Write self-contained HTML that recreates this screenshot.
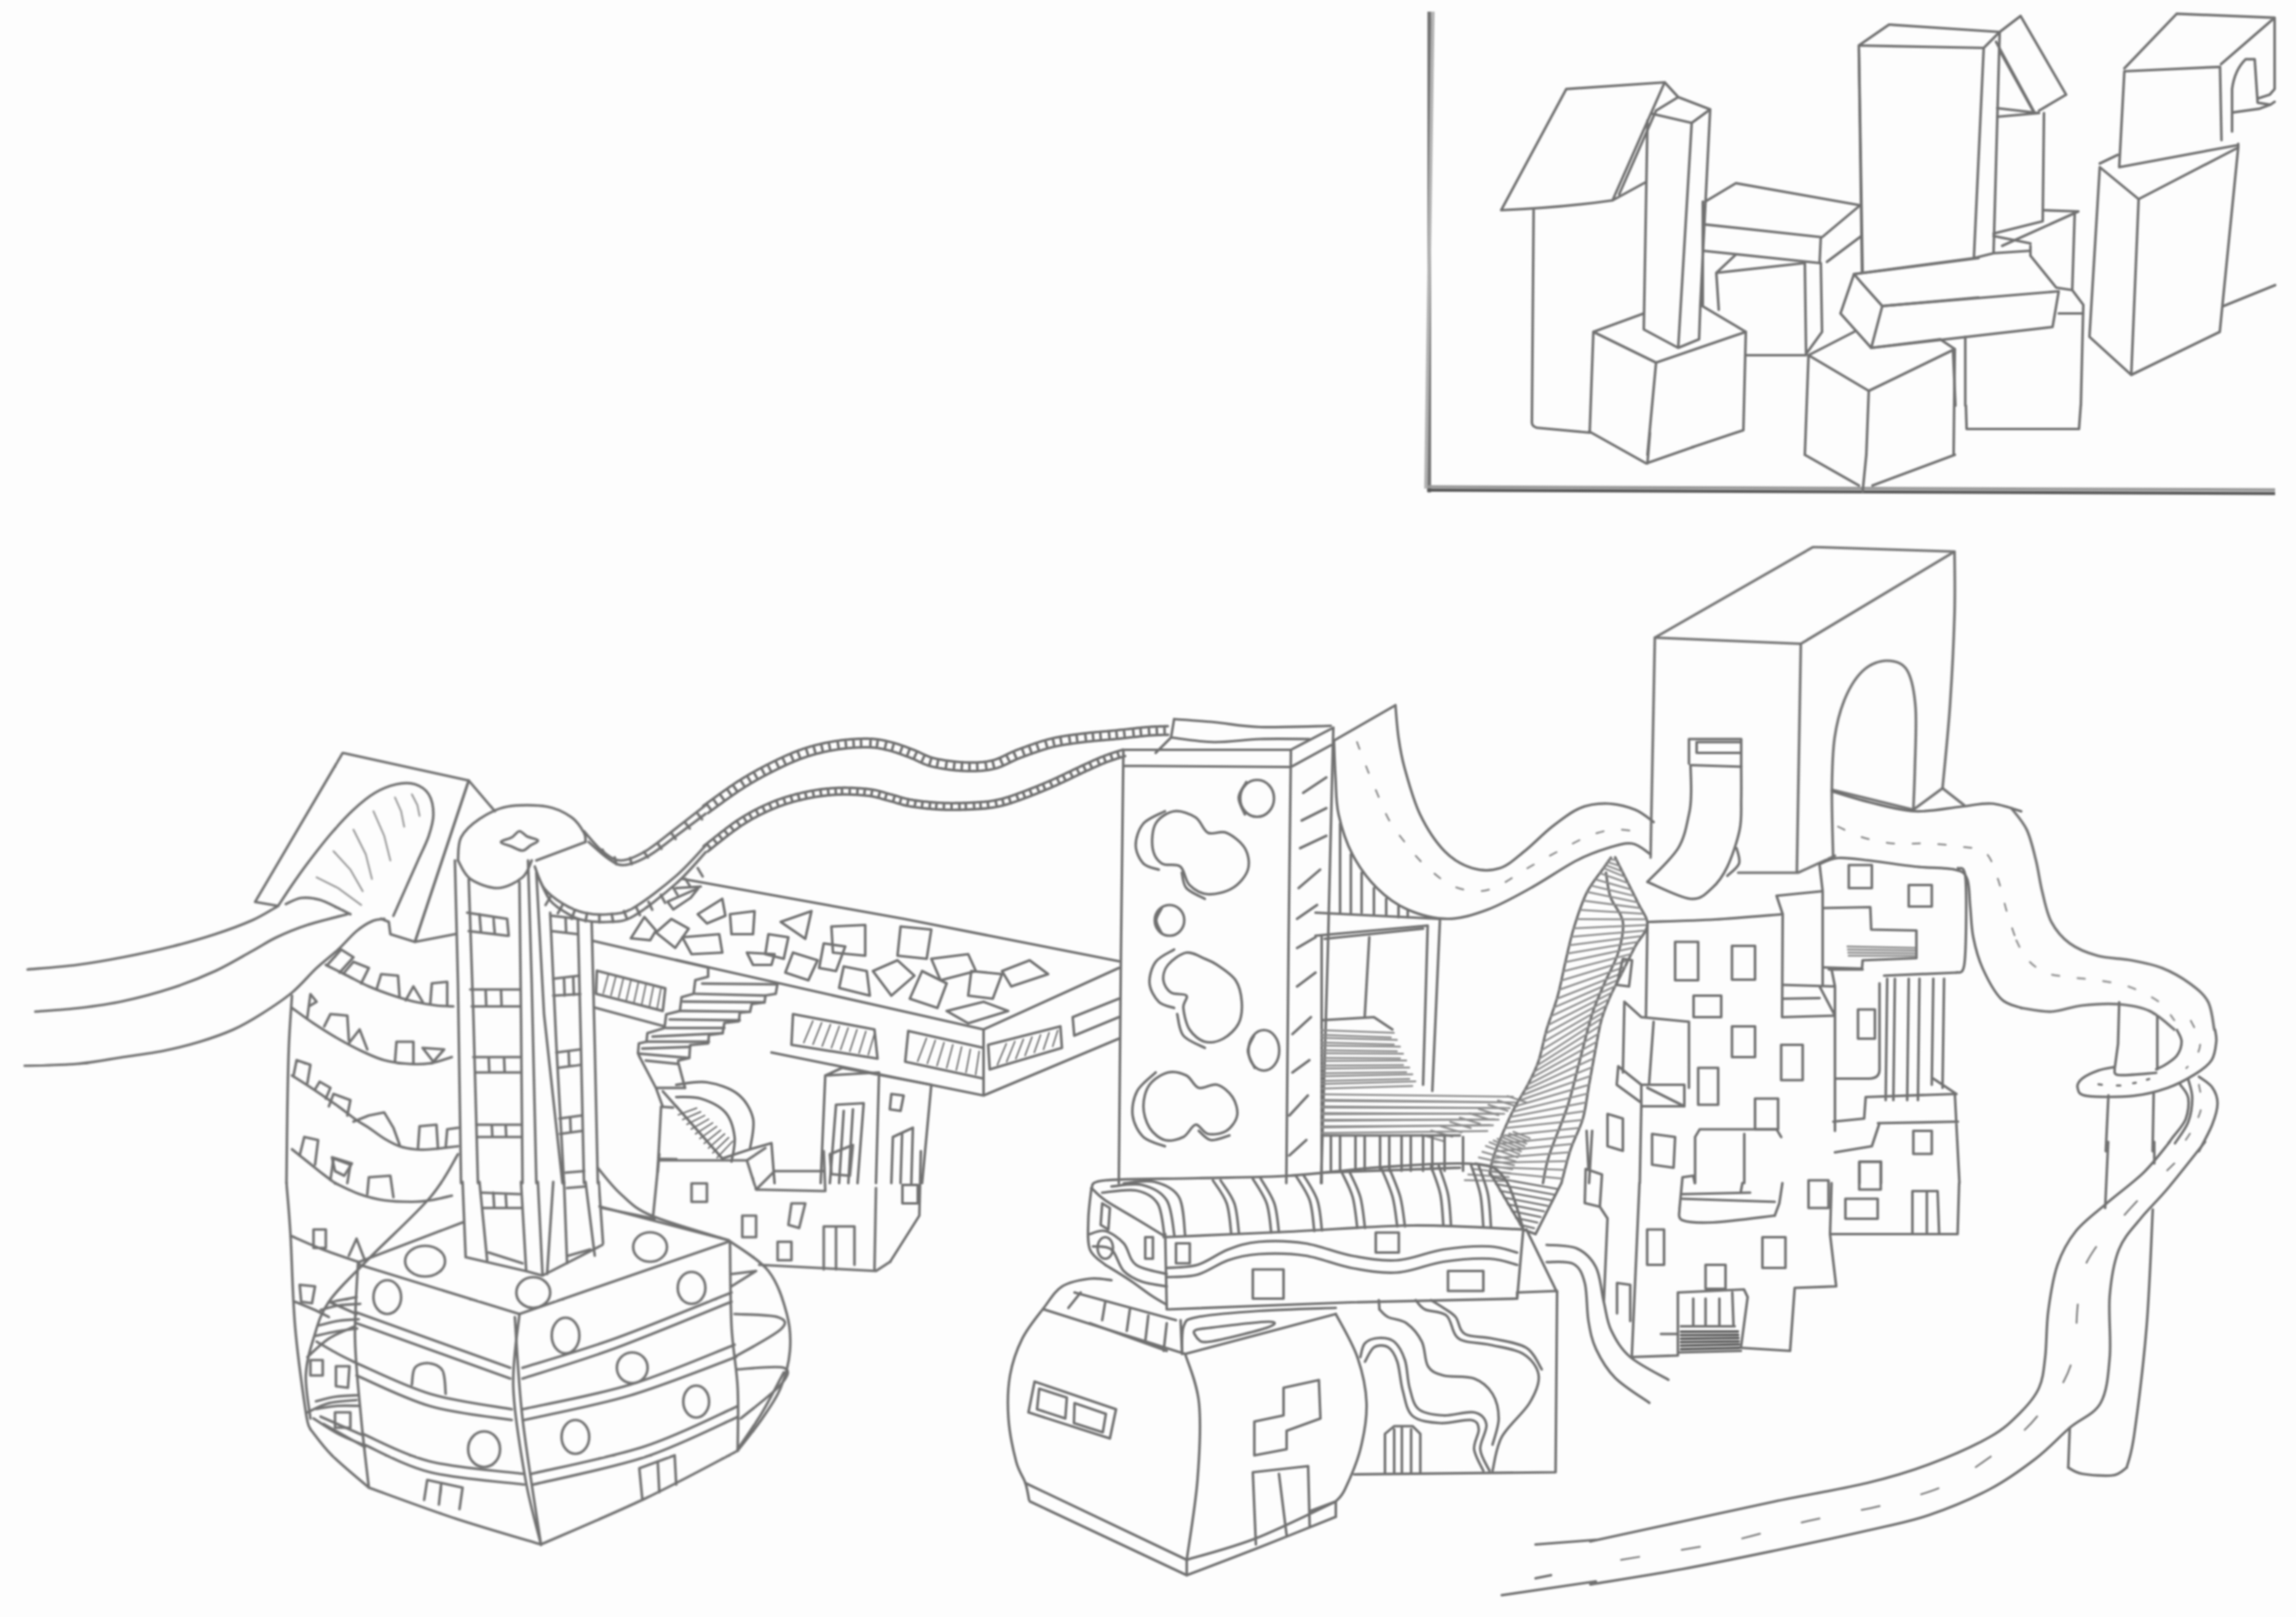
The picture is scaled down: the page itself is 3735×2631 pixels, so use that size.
<!DOCTYPE html>
<html><head><meta charset="utf-8"><title>Drawing</title>
<style>
html,body{margin:0;padding:0;background:#fdfdfd;}
body{width:3735px;height:2631px;overflow:hidden;}
svg{display:block;position:absolute;left:0;top:0;}
#d{fill:none;stroke:#707070;stroke-width:4.2;filter:blur(1.4px);stroke-linecap:round;stroke-linejoin:round;}
#d path,#d ellipse{vector-effect:non-scaling-stroke;}
</style></head><body>
<svg width="3735" height="2631" viewBox="0 0 3735 2631">
<g id="d">
<g transform="translate(2300,0) scale(0.625)">
<path d="M40,30.4 L40,1282" style="stroke:#747474;stroke-width:6;stroke-linecap:butt"/>
<path d="M49.6,30.4 L31.2,1272" style="stroke:#b2b2b2;stroke-width:5.5;stroke-linecap:butt"/>
<path d="M34.4,1276 L2241.6,1284.8" style="stroke:#555;stroke-width:5;stroke-linecap:butt"/>
<path d="M36,1267.2 L2241.6,1275.2" style="stroke:#999;stroke-width:5;stroke-linecap:butt"/>
</g>
<g transform="translate(2300,80) scale(0.4)">
<path d="M620,162 L1020,135 L808,615 Q600,645 355,655 Z M808,615 L945,540 M985,250 L835,590"/>
<path d="M487,655 L480,1520 Q482,1535 500,1540 L715,1560"/>
<path d="M965,262 L1130,300 L1205,245 L1075,195 L1020,135 M1075,195 L985,250 M950,290 L935,1140 L1075,1215 L1160,1180 L1165,1040 L1205,245 M1130,300 L1075,1215"/>
<path d="M730,1150 L715,1560 M730,1150 L985,1275 L950,1650 M730,1150 L935,1075 M985,1275 L1350,1150 L1340,1550 L1130,1620 M1165,1040 L1350,1150"/>
<path d="M1185,620 L1310,545 L1815,635 L1660,765 L1175,712 M1175,620 L1175,1040 M1655,765 L1650,870 L1175,820 M1820,760 L1680,865 M1310,835 L1230,910 L1590,870 M1230,910 L1240,1060 M1590,870 L1595,1240 M1655,870 L1660,1150 L1595,1240 M1350,1245 L1595,1245"/>
<path d="M1810,0 L1825,910 M1790,915 L2296,850 M1790,915 L1735,1075 L1860,1215 L1905,1045 L1820,950 Z M1905,1045 L2296,1010 M1860,1215 L2140,1180"/>
<path d="M1605,1245 L1790,1150 M1605,1245 L1850,1390 L2200,1220 L2140,1180 M1605,1245 L1590,1650 M1850,1390 L1840,1650 M2200,1220 L2195,1650"/>
</g>
<g transform="translate(2817,0) scale(0.4)">
<path d="M517,185 L640,100 L1090,130 L1025,195 Z M517,185 L530,1110 M1025,195 L985,1050 M1090,130 L1065,1030 M497,1115 L985,1050 L1065,1030 L1215,1020"/>
<path d="M1090,130 L1175,65 L1360,385 L1250,450 M1075,170 L1230,455 M1095,215 L1225,450 M1080,440 L1250,460 L1080,475 M1270,460 L1265,900 L1065,950 M1065,960 L1215,990"/>
<path d="M1265,855 L1410,860 L1100,1000 M1395,870 L1385,1180 M1215,1000 L1215,1040 L1320,1170 L1385,1180 L1430,1240 L1420,1650 M1330,1275 L1430,1275"/>
<path d="M612,1245 L1330,1185 L1305,1330 L567,1415"/>
<path d="M950,1370 L950,1650 M900,1425 L910,1650"/>
<path d="M1810,56 L2208,72 L1990,261 M1810,56 L1597,278 M1597,290 L1986,272 L1992,570 M1597,290 L1576,680 L2060,590 M2035,535 L2035,362 Q2045,285 2090,241 L2127,241 Q2131,300 2139,418 L2191,426 L2208,414 M2208,72 L2208,362 L2188,385 L2142,400 M2035,458 L2147,442 L2191,426"/>
<path d="M1497,665 L1570,630 M1497,680 L1655,810 L2060,600 L2060,585 M1497,680 L1455,1370 L1625,1525 L1985,1350 L2060,600 M1655,810 L1625,1525 M2000,1245 L2210,1160"/>
</g>
<g transform="translate(2500,480) scale(0.4)">
<path d="M213,555 L445,685 L640,617 M460,560 L450,685"/>
<path d="M1090,650 L1310,775 M1340,650 L1325,800 M1365,775 L1700,650"/>
<path d="M1745,450 L1748,545 L2205,545 L2212,450"/>
</g>
<g transform="translate(0,1100) scale(0.5)">
<path d="M90,955 C116.7,952.5 198.3,946.7 250,940 C301.7,933.3 348.3,925.0 400,915 C451.7,905.0 510.0,892.5 560,880 C610.0,867.5 656.7,854.2 700,840 C743.3,825.8 785.8,810.3 820,795 C854.2,779.7 890.8,755.8 905,748"/>
<path d="M115,1092 C139.2,1090.0 212.5,1085.7 260,1080 C307.5,1074.3 350.0,1068.8 400,1058 C450.0,1047.2 510.0,1031.3 560,1015 C610.0,998.7 656.7,980.0 700,960 C743.3,940.0 786.7,913.3 820,895 C853.3,876.7 870.0,864.2 900,850 C930.0,835.8 961.7,822.5 1000,810 C1038.3,797.5 1108.3,780.8 1130,775"/>
<path d="M80,1268 C108.3,1267.0 196.7,1266.7 250,1262 C303.3,1257.3 353.3,1247.0 400,1240 C446.7,1233.0 488.3,1228.3 530,1220 C571.7,1211.7 611.7,1201.7 650,1190 C688.3,1178.3 726.7,1165.0 760,1150 C793.3,1135.0 818.3,1120.0 850,1100 C881.7,1080.0 920.0,1055.0 950,1030 C980.0,1005.0 1005.0,973.3 1030,950 C1055.0,926.7 1078.3,910.0 1100,890 C1121.7,870.0 1141.7,845.3 1160,830 C1178.3,814.7 1195.0,804.7 1210,798 C1225.0,791.3 1243.3,791.3 1250,790"/>
<path d="M905,748 L830,735 L1115,250 L1525,340 L1350,865 L1270,840 L1265,800 L1240,790"/>
<path d="M905,748 C912.5,736.7 934.2,703.0 950,680 C965.8,657.0 979.2,637.5 1000,610 C1020.8,582.5 1050.0,544.2 1075,515 C1100.0,485.8 1125.8,457.5 1150,435 C1174.2,412.5 1196.7,393.8 1220,380 C1243.3,366.2 1268.3,356.7 1290,352 C1311.7,347.3 1332.5,346.5 1350,352 C1367.5,357.5 1385.0,368.7 1395,385 C1405.0,401.3 1410.0,427.5 1410,450 C1410.0,472.5 1403.3,495.0 1395,520 C1386.7,545.0 1372.5,571.7 1360,600 C1347.5,628.3 1333.3,660.0 1320,690 C1306.7,720.0 1286.7,765.0 1280,780"/>
<path d="M930,742 C938.3,738.7 961.7,724.3 980,722 C998.3,719.7 1020.0,722.5 1040,728 C1060.0,733.5 1083.3,747.2 1100,755 C1116.7,762.8 1133.3,771.7 1140,775"/>
<path d="M1030,655 L1100,690 L1175,745 M1085,570 L1140,630 L1180,700 M1150,500 L1190,580 L1210,660 M1215,440 L1250,520 L1270,600 M1285,395 L1305,440 L1315,490 M1340,385 L1358,420 L1365,455" style="stroke-width:3;stroke:#999"/>
<path d="M1525,340 L1610,440 M1350,865 L1480,840 M1350,865 L1525,340"/>
<path d="M1490,600 C1491.7,587.5 1488.3,547.5 1500,525 C1511.7,502.5 1535.0,481.7 1560,465 C1585.0,448.3 1613.3,431.7 1650,425 C1686.7,418.3 1745.0,419.2 1780,425 C1815.0,430.8 1840.0,445.8 1860,460 C1880.0,474.2 1892.5,496.7 1900,510 C1907.5,523.3 1904.2,535.0 1905,540"/>
<path d="M1905,540 L1745,600"/>
<path d="M1490,600 C1496.7,610.0 1508.3,645.0 1530,660 C1551.7,675.0 1591.7,690.8 1620,690 C1648.3,689.2 1681.7,670.0 1700,655 C1718.3,640.0 1725.0,609.2 1730,600"/>
<path d="M1630,540 C1630.0,535.0 1655.0,530.8 1665,525 C1675.0,519.2 1681.7,505.5 1690,505 C1698.3,504.5 1705.0,517.0 1715,522 C1725.0,527.0 1748.3,530.0 1750,535 C1751.7,540.0 1733.3,546.5 1725,552 C1716.7,557.5 1710.0,567.5 1700,568 C1690.0,568.5 1676.7,559.7 1665,555 C1653.3,550.3 1630.0,545.0 1630,540Z"/>
<path d="M1900,505 C1910.0,515.8 1940.0,554.2 1960,570 C1980.0,585.8 1996.7,600.0 2020,600 C2043.3,600.0 2070.0,587.5 2100,570 C2130.0,552.5 2167.3,520.0 2200,495 C2232.7,470.0 2280.0,432.5 2296,420"/>
<path d="M1915,540 C1925.8,549.2 1960.8,582.5 1980,595 C1999.2,607.5 2008.3,616.7 2030,615 C2051.7,613.3 2081.7,600.8 2110,585 C2138.3,569.2 2169.0,542.8 2200,520 C2231.0,497.2 2280.0,460.0 2296,448"/>
<path d="M1740,620 C1745.0,631.7 1755.0,670.0 1770,690 C1785.0,710.0 1808.3,726.7 1830,740 C1851.7,753.3 1875.0,764.2 1900,770 C1925.0,775.8 1953.3,777.5 1980,775 C2006.7,772.5 2023.3,775.8 2060,755 C2096.7,734.2 2160.7,684.0 2200,650 C2239.3,616.0 2280.0,567.5 2296,551"/>
<path d="M1750,650 C1756.7,663.3 1773.3,709.2 1790,730 C1806.7,750.8 1831.7,764.2 1850,775 C1868.3,785.8 1878.3,790.8 1900,795 C1921.7,799.2 1953.3,802.2 1980,800 C2006.7,797.8 2023.3,802.8 2060,782 C2096.7,761.2 2160.7,709.8 2200,675 C2239.3,640.2 2280.0,590.0 2296,573"/>
<path d="M1790,720 L1775,745 M1830,745 L1815,772 M1870,762 L1860,790 M1910,772 L1905,798 M1950,776 L1950,802 M1990,774 L1995,800 M2030,765 L2040,790 M2070,752 L2082,778 M2110,735 L2122,760 M2150,712 L2164,738 M2190,688 L2204,712 M2230,660 L2246,686 M2270,625 L2286,652"/>
<path d="M1960,565 L1975,590 M2000,590 L2005,612 M2050,592 L2055,612 M2095,572 L2108,590 M2140,545 L2152,562 M2185,512 L2198,530 M2230,478 L2244,496 M2270,448 L2284,466"/>
<path d="M1480,600 L1490,1000 L1500,1650 M1525,662 L1540,1100 L1555,1650 M1690,670 L1695,1100 L1700,1650 M1718,600 L1730,1000 L1745,1650 M1745,640 L1770,1100 L1830,1650 M1790,770 L1810,1200 L1835,1650 M1880,790 L1890,1200 L1900,1650 M1925,800 L1935,1200 L1945,1650"/>
<path d="M1520,770 L1650,790 M1525,830 L1650,845 M1560,775 L1565,835 M1605,785 L1610,840 M1650,790 L1655,845"/>
<path d="M1530,1020 L1690,1020 M1535,1075 L1690,1075 M1580,1020 L1582,1075 M1630,1020 L1632,1075"/>
<path d="M1540,1240 L1695,1240 M1545,1290 L1695,1290 M1590,1240 L1592,1290 M1640,1240 L1642,1290"/>
<path d="M1550,1460 L1695,1460 M1552,1500 L1695,1500 M1600,1460 L1602,1500 M1645,1460 L1647,1500"/>
<path d="M1795,780 L1880,790 M1795,830 L1880,840 M1840,785 L1842,835"/>
<path d="M1800,985 L1885,975 M1800,1040 L1888,1035 M1835,983 L1837,1040 M1865,980 L1867,1038"/>
<path d="M1810,1225 L1888,1215 M1815,1275 L1890,1265 M1850,1220 L1852,1270"/>
<path d="M1820,1440 L1892,1430 M1822,1490 L1895,1480 M1855,1435 L1857,1485"/>
<path d="M950,1040 C948.3,1066.7 942.5,1140.0 940,1200 C937.5,1260.0 936.3,1325.0 935,1400 C933.7,1475.0 932.5,1608.3 932,1650"/>
<path d="M1060,940 C1071.7,945.8 1106.7,963.3 1130,975 C1153.3,986.7 1175.0,999.2 1200,1010 C1225.0,1020.8 1255.0,1031.7 1280,1040 C1305.0,1048.3 1326.7,1054.7 1350,1060 C1373.3,1065.3 1399.2,1069.5 1420,1072 C1440.8,1074.5 1465.8,1074.5 1475,1075"/>
<path d="M950,1080 C961.7,1088.3 995.0,1113.3 1020,1130 C1045.0,1146.7 1073.3,1164.7 1100,1180 C1126.7,1195.3 1155.0,1210.3 1180,1222 C1205.0,1233.7 1225.0,1243.3 1250,1250 C1275.0,1256.7 1305.0,1260.3 1330,1262 C1355.0,1263.7 1376.7,1263.7 1400,1260 C1423.3,1256.3 1458.3,1243.3 1470,1240"/>
<path d="M950,1300 C961.7,1307.5 995.0,1328.3 1020,1345 C1045.0,1361.7 1076.7,1383.3 1100,1400 C1123.3,1416.7 1143.3,1433.3 1160,1445 C1176.7,1456.7 1185.0,1460.0 1200,1470 C1215.0,1480.0 1233.3,1495.0 1250,1505 C1266.7,1515.0 1283.3,1524.2 1300,1530 C1316.7,1535.8 1333.3,1538.3 1350,1540 C1366.7,1541.7 1376.7,1541.7 1400,1540 C1423.3,1538.3 1475.0,1531.7 1490,1530"/>
<path d="M950,1540 C958.3,1546.7 983.3,1566.7 1000,1580 C1016.7,1593.3 1035.0,1608.3 1050,1620 C1065.0,1631.7 1083.3,1645.0 1090,1650"/>
<path d="M1065,940 L1110,890 L1150,915 L1105,965 M1120,965 L1150,930 L1200,950 L1175,1000 M1225,1020 L1240,970 L1295,975 L1300,1045 M1320,1055 L1345,1010 L1375,1060 M1400,1065 L1405,1000 L1455,995 L1455,1070"/>
<path d="M1000,1110 L1010,1035 L1030,1060 L1005,1075 M1055,1140 L1075,1100 L1130,1105 L1135,1185 M1135,1195 L1170,1150 L1195,1215 M1285,1255 L1290,1190 L1345,1190 L1345,1260 M1375,1210 L1445,1215 L1410,1255 L1375,1210"/>
<path d="M955,1300 L965,1250 L1010,1265 L1000,1325 M1025,1345 L1040,1320 L1075,1340 L1060,1375 M1070,1400 L1085,1360 L1140,1380 L1130,1430 M1150,1450 L1200,1430 L1250,1420 L1280,1470 L1300,1525 M1360,1535 L1365,1465 L1420,1460 L1425,1538 M1450,1535 L1455,1475 L1490,1470"/>
<path d="M975,1560 L990,1500 L1035,1510 L1025,1590 M1075,1640 L1085,1570 L1140,1590 L1130,1650"/>
</g>
<g transform="translate(1100,1100) scale(0.5)">
<path d="M104.1,445.4 L105.9,444.1 L107.9,442.7 L110.1,441.1 L112.4,439.5 L114.9,437.6 L117.5,435.7 L120.3,433.7 L123.2,431.5 L126.3,429.3 L129.5,427.0 L132.7,424.6 L136.1,422.1 L139.6,419.6 L143.1,417.0 L146.7,414.4 L150.4,411.7 L154.1,409.0 L157.9,406.3 L161.7,403.6 L165.6,400.8 L169.4,398.1 L173.3,395.3 L177.1,392.6 L181.0,389.9 L184.8,387.2 L188.6,384.6 L192.3,382.0 L196.0,379.4 L199.6,377.0 L203.2,374.6 L206.7,372.2 L210.1,370.0 L213.4,367.8 L216.5,365.8 L220.1,363.5 L223.7,361.3 L227.2,359.1 L230.7,356.9 L234.3,354.7 L237.8,352.6 L241.3,350.5 L244.7,348.4 L248.2,346.4 L251.7,344.4 L255.1,342.3 L258.6,340.4 L262.0,338.4 L265.5,336.5 L268.9,334.5 L272.3,332.6 L275.7,330.7 L279.1,328.9 L282.6,327.0 L286.0,325.2 L289.4,323.4 L292.8,321.6 L296.2,319.8 L299.6,318.0 L303.1,316.2 L306.5,314.5 L309.9,312.7 L313.3,311.0 L316.8,309.3 L320.2,307.5 L323.9,305.7 L327.6,303.9 L331.3,302.1 L335.0,300.3 L338.7,298.5 L342.4,296.7 L346.1,294.9 L349.7,293.2 L353.4,291.5 L357.1,289.8 L360.7,288.1 L364.4,286.4 L368.0,284.8 L371.6,283.2 L375.3,281.6 L378.9,280.0 L382.6,278.5 L386.2,276.9 L389.8,275.5 L393.5,274.0 L397.1,272.5 L400.7,271.1 L404.3,269.7 L408.0,268.4 L411.6,267.1 L415.2,265.8 L418.8,264.5 L422.4,263.3 L426.4,262.0 L430.3,260.7 L434.2,259.5 L438.2,258.3 L442.1,257.1 L446.0,256.0 L450.0,254.8 L453.9,253.8 L457.9,252.7 L461.8,251.7 L465.8,250.7 L469.7,249.7 L473.7,248.8 L477.7,247.8 L481.6,246.9 L485.6,246.1 L489.5,245.2 L493.5,244.4 L497.5,243.6 L501.4,242.9 L505.4,242.2 L509.3,241.4 L513.3,240.8 L517.2,240.1 L521.2,239.5 L525.1,238.8 L529.0,238.3 L533.0,237.7 L537.0,237.2 L541.1,236.6 L545.2,236.2 L549.3,235.7 L553.4,235.3 L557.5,234.9 L561.6,234.5 L565.8,234.1 L569.9,233.8 L574.0,233.5 L578.1,233.2 L582.2,233.0 L586.2,232.7 L590.2,232.5 L594.1,232.4 L598.0,232.2 L601.9,232.1 L605.6,232.0 L609.4,231.9 L613.0,231.9 L616.6,231.9 L620.0,231.9 L623.4,231.9 L626.6,232.0 L631.4,232.1 L636.0,232.4 L640.3,232.7 L644.5,233.0 L648.5,233.4 L652.4,233.9 L656.2,234.4 L659.9,235.0 L663.5,235.7 L667.1,236.4 L670.7,237.1 L674.4,237.9 L678.1,238.8 L681.8,239.7 L685.6,240.6 L689.6,241.6 L693.6,242.6 L697.3,243.5 L701.0,244.5 L704.7,245.6 L708.4,246.8 L712.2,247.9 L716.0,249.2 L719.7,250.5 L723.5,251.8 L727.3,253.1 L731.2,254.5 L735.0,255.9 L738.8,257.3 L742.7,258.8 L746.6,260.2 L750.4,261.7 L754.3,263.2 L758.2,264.6 L762.0,266.1 L765.6,267.5 L769.0,268.9 L772.4,270.4 L775.8,271.9 L779.2,273.5 L782.7,275.2 L786.2,276.9 L789.7,278.6 L793.4,280.3 L797.1,282.0 L801.0,283.8 L805.0,285.5 L809.2,287.2 L813.5,288.8 L818.0,290.4 L822.7,291.9 L827.6,293.3 L832.6,294.6 L836.3,295.4 L839.9,296.3 L843.7,297.1 L847.6,297.9 L851.5,298.6 L855.5,299.4 L859.6,300.1 L863.8,300.8 L868.0,301.5 L872.3,302.2 L876.6,302.8 L880.9,303.5 L885.3,304.1 L889.6,304.6 L894.0,305.2 L898.4,305.7 L902.8,306.2 L907.1,306.6 L911.5,307.1 L915.8,307.4 L920.0,307.8 L924.3,308.1 L928.4,308.4 L932.5,308.6 L936.5,308.8 L940.5,309.0 L945.0,309.1 L949.5,309.3 L954.0,309.3 L958.4,309.4 L962.8,309.4 L967.2,309.4 L971.6,309.3 L975.9,309.2 L980.2,309.0 L984.5,308.8 L988.8,308.5 L993.1,308.2 L997.4,307.8 L1001.6,307.4 L1005.8,306.9 L1010.1,306.4 L1014.3,305.7 L1018.5,305.1 L1022.7,304.3 L1026.9,303.5 L1031.1,302.6 L1035.3,301.6 L1039.6,300.5 L1043.9,299.3 L1048.0,297.9 L1052.1,296.5 L1056.1,295.0 L1060.0,293.4 L1063.8,291.8 L1067.6,290.1 L1071.4,288.4 L1075.1,286.6 L1078.7,284.8 L1082.4,283.1 L1086.0,281.3 L1089.7,279.5 L1093.3,277.7 L1097.0,276.0 L1100.7,274.2 L1104.4,272.5 L1108.2,270.8 L1112.0,269.2 L1115.9,267.6 L1120.0,266.1 L1123.4,264.8 L1127.0,263.5 L1130.6,262.1 L1134.3,260.8 L1138.0,259.4 L1141.7,258.0 L1145.5,256.6 L1149.3,255.2 L1153.2,253.8 L1157.0,252.4 L1160.9,251.0 L1164.9,249.7 L1168.8,248.3 L1172.7,246.9 L1176.7,245.6 L1180.6,244.3 L1184.6,242.9 L1188.6,241.7 L1192.5,240.4 L1196.4,239.2 L1200.4,238.0 L1204.3,236.8 L1208.1,235.7 L1212.0,234.6 L1215.8,233.5 L1219.6,232.5 L1223.4,231.6 L1227.3,230.6 L1231.2,229.7 L1235.0,228.9 L1238.9,228.0 L1242.8,227.2 L1246.7,226.4 L1250.6,225.7 L1254.5,225.0 L1258.4,224.3 L1262.3,223.6 L1266.2,223.0 L1270.2,222.4 L1274.1,221.8 L1278.0,221.2 L1282.0,220.6 L1285.9,220.1 L1289.8,219.5 L1293.8,219.0 L1297.8,218.5 L1301.8,218.0 L1305.7,217.4 L1309.7,216.9 L1313.7,216.4 L1317.7,215.9 L1321.8,215.4 L1325.8,214.9 L1329.7,214.4 L1333.7,213.9 L1337.7,213.4 L1341.6,213.0 L1345.6,212.6 L1349.6,212.2 L1353.6,211.8 L1357.6,211.4 L1361.6,211.0 L1365.6,210.6 L1369.6,210.3 L1373.7,209.9 L1377.7,209.6 L1381.7,209.2 L1385.8,208.9 L1389.8,208.6 L1393.9,208.2 L1397.9,207.9 L1402.0,207.5 L1406.0,207.2 L1410.1,206.8 L1414.1,206.5 L1418.2,206.1 L1422.3,205.7 L1426.3,205.3 L1430.4,204.9 L1434.5,204.5 L1438.6,204.1 L1442.7,203.7 L1446.9,203.2 L1451.1,202.7 L1455.4,202.3 L1459.6,201.8 L1463.8,201.3 L1468.1,200.9 L1472.3,200.4 L1476.5,199.9 L1480.7,199.4 L1484.9,199.0 L1489.1,198.5 L1493.2,198.1 L1497.3,197.6 L1501.3,197.2 L1505.2,196.7 L1509.1,196.3 L1513.0,195.9 L1516.7,195.6 L1520.4,195.2 L1524.0,194.9 L1527.5,194.5 L1530.9,194.2 L1534.1,194.0 L1539.4,193.5 L1544.5,193.2 L1549.6,192.9 L1554.7,192.6 L1559.6,192.4 L1564.4,192.1 L1569.0,192.0 L1573.5,191.8 L1577.7,191.7 L1581.8,191.5 L1585.6,191.4 L1589.2,191.3 L1592.5,191.3 L1595.5,191.2 L1598.2,191.1 L1600.6,191.0 M87.9,422.6 L89.6,421.4 L91.5,420.0 L93.6,418.5 L95.9,416.8 L98.4,415.0 L101.0,413.1 L103.8,411.1 L106.7,408.9 L109.8,406.7 L112.9,404.4 L116.2,402.0 L119.6,399.5 L123.1,397.0 L126.6,394.4 L130.3,391.7 L134.0,389.1 L137.7,386.3 L141.5,383.6 L145.4,380.8 L149.3,378.1 L153.1,375.3 L157.0,372.5 L161.0,369.7 L164.8,367.0 L168.7,364.3 L172.6,361.6 L176.4,358.9 L180.2,356.3 L183.9,353.8 L187.6,351.3 L191.2,348.9 L194.7,346.6 L198.1,344.3 L201.5,342.2 L205.1,339.9 L208.8,337.6 L212.4,335.3 L216.1,333.1 L219.7,330.8 L223.3,328.7 L226.9,326.5 L230.5,324.4 L234.0,322.2 L237.6,320.2 L241.1,318.1 L244.7,316.1 L248.2,314.1 L251.7,312.1 L255.2,310.1 L258.8,308.1 L262.3,306.2 L265.8,304.3 L269.3,302.4 L272.8,300.5 L276.3,298.6 L279.8,296.8 L283.2,295.0 L286.7,293.1 L290.2,291.3 L293.7,289.5 L297.2,287.8 L300.7,286.0 L304.3,284.2 L307.8,282.5 L311.5,280.6 L315.3,278.7 L319.0,276.9 L322.8,275.1 L326.5,273.3 L330.3,271.4 L334.0,269.7 L337.8,267.9 L341.5,266.1 L345.3,264.4 L349.1,262.6 L352.8,260.9 L356.6,259.2 L360.4,257.6 L364.1,255.9 L367.9,254.3 L371.7,252.7 L375.5,251.1 L379.2,249.5 L383.0,248.0 L386.8,246.5 L390.6,245.0 L394.4,243.6 L398.2,242.1 L402.1,240.7 L405.9,239.4 L409.7,238.0 L413.6,236.7 L417.7,235.4 L421.8,234.0 L425.9,232.7 L430.1,231.5 L434.2,230.2 L438.3,229.0 L442.5,227.9 L446.6,226.7 L450.7,225.6 L454.9,224.5 L459.0,223.5 L463.2,222.5 L467.3,221.5 L471.4,220.5 L475.6,219.6 L479.7,218.7 L483.8,217.8 L488.0,217.0 L492.1,216.2 L496.2,215.4 L500.3,214.6 L504.5,213.9 L508.6,213.2 L512.7,212.5 L516.8,211.8 L520.9,211.2 L525.0,210.5 L529.2,210.0 L533.4,209.4 L537.7,208.9 L542.0,208.3 L546.3,207.9 L550.6,207.4 L554.9,207.0 L559.2,206.6 L563.5,206.2 L567.8,205.9 L572.0,205.6 L576.3,205.3 L580.5,205.0 L584.7,204.8 L588.9,204.6 L593.0,204.4 L597.1,204.2 L601.1,204.1 L605.0,204.0 L608.9,203.9 L612.8,203.9 L616.5,203.9 L620.2,203.9 L623.8,203.9 L627.4,204.0 L632.6,204.2 L637.6,204.4 L642.4,204.7 L647.1,205.1 L651.7,205.6 L656.1,206.1 L660.3,206.8 L664.5,207.4 L668.6,208.1 L672.6,208.9 L676.6,209.7 L680.5,210.6 L684.4,211.5 L688.4,212.4 L692.3,213.4 L696.3,214.4 L700.4,215.4 L704.5,216.5 L708.6,217.6 L712.7,218.8 L716.7,220.0 L720.8,221.3 L724.8,222.6 L728.8,224.0 L732.8,225.3 L736.8,226.8 L740.8,228.2 L744.7,229.6 L748.6,231.1 L752.6,232.6 L756.5,234.1 L760.4,235.5 L764.2,237.0 L768.1,238.4 L772.0,239.9 L776.0,241.5 L780.0,243.1 L783.8,244.8 L787.6,246.5 L791.2,248.2 L794.8,249.9 L798.3,251.6 L801.8,253.3 L805.3,255.0 L808.7,256.6 L812.2,258.1 L815.7,259.6 L819.4,261.1 L823.0,262.5 L826.9,263.8 L830.8,265.1 L835.0,266.3 L839.4,267.4 L842.5,268.2 L845.9,268.9 L849.4,269.7 L853.1,270.4 L856.8,271.1 L860.6,271.8 L864.5,272.5 L868.4,273.2 L872.5,273.9 L876.5,274.5 L880.6,275.1 L884.8,275.7 L889.0,276.3 L893.2,276.9 L897.4,277.4 L901.6,277.9 L905.8,278.3 L909.9,278.8 L914.1,279.2 L918.2,279.5 L922.3,279.9 L926.3,280.2 L930.2,280.4 L934.0,280.7 L937.8,280.9 L941.5,281.0 L945.8,281.2 L950.1,281.3 L954.4,281.3 L958.6,281.4 L962.8,281.4 L966.9,281.4 L971.0,281.3 L975.0,281.2 L979.0,281.0 L983.0,280.8 L986.9,280.6 L990.8,280.3 L994.7,280.0 L998.6,279.6 L1002.4,279.1 L1006.2,278.6 L1010.0,278.1 L1013.8,277.5 L1017.5,276.8 L1021.3,276.1 L1025.0,275.3 L1028.7,274.4 L1032.2,273.5 L1035.7,272.5 L1039.1,271.4 L1042.5,270.2 L1045.9,268.9 L1049.3,267.5 L1052.7,266.1 L1056.1,264.6 L1059.5,263.0 L1063.0,261.4 L1066.5,259.7 L1070.1,257.9 L1073.7,256.1 L1077.4,254.3 L1081.2,252.5 L1085.0,250.7 L1088.9,248.8 L1092.9,247.0 L1097.1,245.2 L1101.3,243.4 L1105.6,241.6 L1110.0,239.9 L1113.6,238.6 L1117.2,237.2 L1120.8,235.9 L1124.5,234.5 L1128.3,233.1 L1132.0,231.7 L1135.9,230.3 L1139.7,228.9 L1143.7,227.5 L1147.6,226.1 L1151.6,224.7 L1155.6,223.2 L1159.6,221.8 L1163.6,220.4 L1167.7,219.1 L1171.8,217.7 L1175.9,216.3 L1180.0,215.0 L1184.1,213.7 L1188.2,212.4 L1192.3,211.2 L1196.4,209.9 L1200.4,208.8 L1204.5,207.6 L1208.6,206.5 L1212.6,205.4 L1216.6,204.4 L1220.8,203.4 L1224.9,202.4 L1229.0,201.5 L1233.2,200.6 L1237.3,199.8 L1241.4,199.0 L1245.5,198.2 L1249.6,197.4 L1253.7,196.7 L1257.7,196.0 L1261.8,195.4 L1265.9,194.7 L1269.9,194.1 L1274.0,193.5 L1278.0,192.9 L1282.0,192.3 L1286.1,191.8 L1290.1,191.2 L1294.1,190.7 L1298.2,190.2 L1302.2,189.7 L1306.2,189.2 L1310.2,188.7 L1314.2,188.1 L1318.2,187.6 L1322.2,187.1 L1326.3,186.6 L1330.4,186.1 L1334.5,185.6 L1338.6,185.2 L1342.7,184.7 L1346.8,184.3 L1350.9,183.9 L1354.9,183.5 L1359.0,183.1 L1363.1,182.7 L1367.2,182.4 L1371.2,182.0 L1375.3,181.7 L1379.4,181.3 L1383.4,181.0 L1387.5,180.6 L1391.5,180.3 L1395.6,180.0 L1399.6,179.6 L1403.6,179.3 L1407.6,178.9 L1411.6,178.6 L1415.6,178.2 L1419.6,177.8 L1423.6,177.5 L1427.6,177.1 L1431.6,176.7 L1435.7,176.2 L1439.8,175.8 L1443.9,175.4 L1448.1,174.9 L1452.3,174.5 L1456.5,174.0 L1460.7,173.5 L1465.0,173.0 L1469.2,172.6 L1473.4,172.1 L1477.6,171.6 L1481.8,171.1 L1486.0,170.7 L1490.1,170.2 L1494.2,169.8 L1498.3,169.3 L1502.3,168.9 L1506.2,168.5 L1510.1,168.1 L1513.9,167.7 L1517.7,167.3 L1521.4,167.0 L1525.0,166.6 L1528.5,166.3 L1531.9,166.0 L1537.3,165.6 L1542.7,165.3 L1548.0,164.9 L1553.2,164.6 L1558.3,164.4 L1563.2,164.2 L1568.0,164.0 L1572.5,163.8 L1576.9,163.7 L1581.0,163.6 L1584.9,163.5 L1588.5,163.4 L1591.7,163.3 L1594.7,163.2 L1597.2,163.1 L1599.4,163.0 M114.9,437.6 L98.4,415.0 M136.1,422.1 L119.6,399.5 M157.9,406.3 L141.5,383.6 M181.0,389.9 L164.8,367.0 M199.6,377.0 L183.9,353.8 M223.7,361.3 L208.8,337.6 M244.7,348.4 L230.5,324.4 M265.5,336.5 L251.7,312.1 M289.4,323.4 L276.3,298.6 M309.9,312.7 L297.2,287.8 M335.0,300.3 L322.8,275.1 M357.1,289.8 L345.3,264.4 M382.6,278.5 L371.7,252.7 M404.3,269.7 L394.4,243.6 M430.3,260.7 L421.8,234.0 M453.9,253.8 L446.6,226.7 M477.7,247.8 L471.4,220.5 M501.4,242.9 L496.2,215.4 M529.0,238.3 L525.0,210.5 M553.4,235.3 L550.6,207.4 M578.1,233.2 L576.3,205.3 M601.9,232.1 L601.1,204.1 M631.4,232.1 L632.6,204.2 M652.4,233.9 L656.1,206.1 M678.1,238.8 L684.4,211.5 M701.0,244.5 L708.6,217.6 M727.3,253.1 L736.8,226.8 M750.4,261.7 L760.4,235.5 M772.4,270.4 L783.8,244.8 M797.1,282.0 L808.7,256.6 M822.7,291.9 L830.8,265.1 M847.6,297.9 L853.1,270.4 M876.6,302.8 L880.6,275.1 M902.8,306.2 L905.8,278.3 M928.4,308.4 L930.2,280.4 M954.0,309.3 L954.4,281.3 M980.2,309.0 L979.0,281.0 M1010.1,306.4 L1006.2,278.6 M1035.3,301.6 L1028.7,274.4 M1063.8,291.8 L1052.7,266.1 M1086.0,281.3 L1073.7,256.1 M1108.2,270.8 L1097.1,245.2 M1134.3,260.8 L1124.5,234.5 M1157.0,252.4 L1147.6,226.1 M1180.6,244.3 L1171.8,217.7 M1208.1,235.7 L1200.4,208.8 M1231.2,229.7 L1224.9,202.4 M1254.5,225.0 L1249.6,197.4 M1282.0,220.6 L1278.0,192.9 M1305.7,217.4 L1302.2,189.7 M1333.7,213.9 L1330.4,186.1 M1357.6,211.4 L1354.9,183.5 M1381.7,209.2 L1379.4,181.3 M1410.1,206.8 L1407.6,178.9 M1434.5,204.5 L1431.6,176.7 M1459.6,201.8 L1456.5,174.0 M1489.1,198.5 L1486.0,170.7 M1513.0,195.9 L1510.1,168.1 M1539.4,193.5 L1537.3,165.6 M1564.4,192.1 L1563.2,164.2 M1589.2,191.3 L1588.5,163.4"/>
<path d="M102.7,570.7 L104.4,569.4 L106.4,567.9 L108.5,566.3 L110.7,564.5 L113.1,562.6 L115.7,560.5 L118.4,558.4 L121.2,556.2 L124.1,553.8 L127.1,551.4 L130.3,548.9 L133.5,546.3 L136.9,543.6 L140.3,540.9 L143.8,538.2 L147.3,535.4 L150.9,532.5 L154.6,529.7 L158.2,526.8 L161.9,523.9 L165.7,521.0 L169.4,518.1 L173.2,515.3 L176.9,512.4 L180.6,509.6 L184.3,506.8 L188.0,504.1 L191.6,501.5 L195.2,498.9 L198.7,496.4 L202.1,493.9 L205.5,491.6 L208.7,489.4 L211.9,487.2 L215.0,485.2 L218.7,482.9 L222.3,480.5 L226.0,478.3 L229.6,476.0 L233.3,473.8 L236.9,471.7 L240.5,469.6 L244.0,467.5 L247.6,465.5 L251.2,463.5 L254.7,461.5 L258.3,459.6 L261.8,457.7 L265.4,455.8 L268.9,454.0 L272.4,452.2 L275.9,450.4 L279.4,448.7 L283.0,447.0 L286.5,445.3 L290.0,443.6 L293.5,442.0 L297.0,440.4 L300.5,438.8 L304.1,437.2 L307.6,435.7 L311.1,434.1 L314.7,432.6 L318.2,431.2 L322.0,429.6 L325.8,428.1 L329.6,426.6 L333.4,425.1 L337.1,423.7 L340.9,422.3 L344.7,421.0 L348.4,419.7 L352.2,418.4 L356.0,417.1 L359.8,415.9 L363.5,414.7 L367.3,413.5 L371.1,412.4 L374.8,411.3 L378.6,410.2 L382.4,409.1 L386.2,408.1 L390.0,407.1 L393.7,406.1 L397.5,405.1 L401.3,404.2 L405.1,403.3 L408.9,402.3 L412.7,401.5 L416.5,400.6 L420.4,399.7 L424.3,398.9 L428.3,398.1 L432.2,397.3 L436.2,396.5 L440.2,395.7 L444.1,395.0 L448.1,394.3 L452.1,393.6 L456.0,393.0 L460.0,392.4 L464.0,391.8 L468.0,391.2 L472.0,390.7 L475.9,390.1 L479.9,389.6 L483.9,389.2 L487.9,388.7 L491.8,388.3 L495.8,388.0 L499.8,387.6 L503.7,387.3 L507.7,387.0 L511.7,386.7 L515.6,386.4 L519.6,386.2 L523.5,386.0 L527.5,385.8 L531.5,385.7 L535.5,385.6 L539.6,385.5 L543.7,385.4 L547.8,385.4 L551.9,385.4 L556.1,385.5 L560.2,385.5 L564.3,385.6 L568.5,385.7 L572.6,385.9 L576.7,386.1 L580.8,386.2 L584.9,386.4 L588.9,386.7 L592.8,386.9 L596.8,387.2 L600.6,387.5 L604.4,387.8 L608.2,388.1 L611.8,388.4 L615.4,388.8 L618.9,389.2 L622.4,389.5 L625.6,389.9 L630.2,390.5 L634.5,391.2 L638.6,391.9 L642.6,392.7 L646.5,393.5 L650.3,394.4 L654.0,395.3 L657.6,396.2 L661.2,397.2 L664.7,398.2 L668.2,399.3 L671.8,400.3 L675.4,401.4 L679.0,402.5 L682.7,403.5 L686.5,404.6 L690.4,405.6 L694.3,406.7 L698.0,407.6 L701.7,408.6 L705.3,409.6 L708.8,410.6 L712.4,411.7 L715.9,412.8 L719.5,413.8 L723.1,414.9 L726.8,416.0 L730.6,417.1 L734.4,418.2 L738.4,419.2 L742.5,420.2 L746.7,421.2 L751.1,422.2 L755.6,423.1 L760.3,424.0 L765.2,424.9 L768.7,425.4 L772.3,425.9 L775.9,426.5 L779.6,427.0 L783.4,427.5 L787.3,428.0 L791.2,428.5 L795.2,429.0 L799.2,429.5 L803.3,429.9 L807.4,430.4 L811.6,430.8 L815.7,431.2 L820.0,431.6 L824.2,432.0 L828.5,432.4 L832.7,432.7 L837.0,433.0 L841.2,433.4 L845.5,433.7 L849.7,433.9 L854.0,434.2 L858.2,434.4 L862.3,434.6 L866.5,434.8 L870.6,435.0 L874.7,435.1 L878.9,435.3 L883.1,435.3 L887.3,435.4 L891.6,435.5 L895.9,435.5 L900.2,435.5 L904.5,435.5 L908.8,435.4 L913.1,435.4 L917.4,435.3 L921.7,435.2 L926.0,435.1 L930.2,435.0 L934.4,434.9 L938.6,434.7 L942.7,434.6 L946.8,434.4 L950.8,434.3 L954.7,434.1 L958.6,433.9 L962.4,433.7 L966.1,433.6 L969.7,433.4 L973.2,433.2 L976.6,433.0 L981.7,432.7 L986.5,432.4 L991.1,432.1 L995.5,431.8 L999.8,431.4 L1003.9,431.1 L1008.0,430.7 L1011.9,430.3 L1015.8,429.9 L1019.7,429.4 L1023.5,428.9 L1027.4,428.4 L1031.2,427.8 L1035.1,427.1 L1039.1,426.4 L1043.1,425.6 L1047.2,424.8 L1051.2,423.9 L1055.0,423.1 L1058.8,422.2 L1062.5,421.3 L1066.2,420.3 L1069.9,419.4 L1073.5,418.3 L1077.2,417.3 L1081.0,416.1 L1084.7,415.0 L1088.6,413.8 L1092.5,412.5 L1096.5,411.1 L1100.6,409.7 L1104.9,408.3 L1109.3,406.7 L1113.9,405.1 L1118.7,403.4 L1121.9,402.2 L1125.2,401.0 L1128.6,399.7 L1132.0,398.5 L1135.5,397.2 L1139.1,395.8 L1142.7,394.4 L1146.4,393.0 L1150.2,391.6 L1154.0,390.1 L1157.8,388.6 L1161.6,387.1 L1165.5,385.5 L1169.5,384.0 L1173.4,382.4 L1177.4,380.8 L1181.3,379.2 L1185.3,377.6 L1189.3,375.9 L1193.3,374.3 L1197.2,372.6 L1201.2,371.0 L1205.1,369.3 L1209.0,367.7 L1212.9,366.0 L1216.8,364.4 L1220.6,362.7 L1224.4,361.1 L1228.2,359.4 L1232.0,357.7 L1235.9,356.0 L1239.8,354.2 L1243.7,352.4 L1247.6,350.6 L1251.5,348.8 L1255.5,346.9 L1259.4,345.1 L1263.3,343.2 L1267.3,341.3 L1271.2,339.5 L1275.1,337.6 L1279.0,335.7 L1282.8,333.9 L1286.6,332.0 L1290.4,330.2 L1294.2,328.4 L1297.9,326.6 L1301.6,324.8 L1305.2,323.1 L1308.7,321.4 L1312.2,319.7 L1315.7,318.1 L1319.0,316.5 L1322.3,314.9 L1325.5,313.4 L1328.6,312.0 L1333.1,309.9 L1337.4,307.9 L1341.6,306.0 L1345.7,304.1 L1349.6,302.3 L1353.5,300.5 L1357.2,298.8 L1360.8,297.2 L1364.3,295.6 L1367.8,294.0 L1371.2,292.5 L1374.6,291.0 L1377.9,289.5 L1381.3,288.1 L1384.6,286.7 L1387.9,285.3 L1391.2,283.9 L1394.6,282.6 L1398.0,281.3 L1402.1,279.7 L1406.4,278.1 L1410.8,276.5 L1415.3,275.0 L1419.8,273.4 L1424.3,271.9 L1428.8,270.5 L1433.2,269.0 L1437.5,267.7 L1441.6,266.4 L1445.5,265.2 L1449.1,264.0 L1452.5,263.0 L1455.5,262.0 L1458.2,261.2 L1460.4,260.5 M89.3,553.3 L91.0,552.0 L92.8,550.5 L94.9,549.0 L97.1,547.2 L99.4,545.3 L102.0,543.3 L104.6,541.2 L107.4,539.0 L110.4,536.6 L113.4,534.2 L116.6,531.7 L119.8,529.1 L123.2,526.4 L126.6,523.7 L130.1,520.9 L133.7,518.1 L137.3,515.2 L141.0,512.3 L144.7,509.4 L148.5,506.5 L152.2,503.6 L156.0,500.7 L159.8,497.8 L163.6,494.9 L167.4,492.0 L171.2,489.2 L174.9,486.4 L178.6,483.7 L182.3,481.0 L185.9,478.4 L189.5,475.9 L193.0,473.5 L196.4,471.1 L199.8,468.9 L203.0,466.8 L206.8,464.3 L210.6,461.9 L214.4,459.6 L218.2,457.2 L221.9,455.0 L225.7,452.7 L229.4,450.6 L233.1,448.4 L236.8,446.3 L240.5,444.2 L244.2,442.2 L247.8,440.2 L251.5,438.2 L255.2,436.3 L258.8,434.4 L262.5,432.6 L266.1,430.7 L269.8,428.9 L273.4,427.2 L277.0,425.4 L280.7,423.7 L284.3,422.0 L287.9,420.3 L291.6,418.7 L295.2,417.1 L298.8,415.5 L302.5,413.9 L306.1,412.4 L309.8,410.8 L313.7,409.2 L317.7,407.6 L321.6,406.1 L325.5,404.6 L329.5,403.1 L333.4,401.7 L337.3,400.2 L341.3,398.9 L345.2,397.5 L349.1,396.2 L353.0,395.0 L356.9,393.7 L360.9,392.5 L364.8,391.3 L368.7,390.2 L372.6,389.0 L376.5,387.9 L380.4,386.9 L384.3,385.8 L388.2,384.8 L392.1,383.8 L396.1,382.8 L400.0,381.9 L403.9,380.9 L407.8,380.0 L411.7,379.1 L415.6,378.3 L419.7,377.4 L423.8,376.5 L427.9,375.7 L432.0,374.9 L436.1,374.1 L440.2,373.3 L444.4,372.6 L448.5,371.9 L452.6,371.3 L456.7,370.6 L460.8,370.0 L464.9,369.4 L469.0,368.8 L473.2,368.3 L477.3,367.8 L481.4,367.3 L485.5,366.9 L489.6,366.4 L493.8,366.0 L497.9,365.7 L502.0,365.3 L506.1,365.0 L510.2,364.7 L514.3,364.5 L518.4,364.2 L522.5,364.0 L526.6,363.8 L530.8,363.7 L535.0,363.6 L539.2,363.5 L543.5,363.4 L547.8,363.4 L552.0,363.4 L556.3,363.5 L560.6,363.5 L564.9,363.6 L569.2,363.8 L573.4,363.9 L577.7,364.1 L581.9,364.3 L586.0,364.5 L590.2,364.7 L594.3,365.0 L598.3,365.2 L602.3,365.5 L606.2,365.9 L610.1,366.2 L613.9,366.5 L617.6,366.9 L621.3,367.3 L624.8,367.7 L628.4,368.1 L633.3,368.7 L638.0,369.5 L642.6,370.2 L647.0,371.1 L651.3,372.0 L655.4,373.0 L659.4,374.0 L663.3,375.0 L667.1,376.0 L670.8,377.1 L674.5,378.2 L678.1,379.2 L681.6,380.3 L685.2,381.3 L688.8,382.4 L692.3,383.4 L696.0,384.4 L699.7,385.3 L703.6,386.3 L707.5,387.4 L711.3,388.5 L715.0,389.5 L718.6,390.6 L722.2,391.7 L725.8,392.8 L729.4,393.8 L732.9,394.9 L736.5,395.9 L740.2,396.9 L743.9,397.9 L747.7,398.9 L751.6,399.8 L755.7,400.7 L759.8,401.6 L764.2,402.4 L768.8,403.1 L772.1,403.7 L775.5,404.2 L779.0,404.7 L782.6,405.2 L786.3,405.7 L790.1,406.2 L793.9,406.7 L797.8,407.1 L801.7,407.6 L805.7,408.0 L809.7,408.5 L813.8,408.9 L817.9,409.3 L822.0,409.7 L826.1,410.1 L830.3,410.4 L834.5,410.8 L838.6,411.1 L842.8,411.4 L847.0,411.7 L851.1,412.0 L855.2,412.2 L859.3,412.5 L863.4,412.7 L867.4,412.8 L871.4,413.0 L875.4,413.1 L879.4,413.3 L883.5,413.3 L887.6,413.4 L891.8,413.5 L895.9,413.5 L900.1,413.5 L904.3,413.5 L908.6,413.4 L912.8,413.4 L917.0,413.3 L921.2,413.2 L925.4,413.1 L929.6,413.0 L933.7,412.9 L937.8,412.8 L941.9,412.6 L945.9,412.5 L949.8,412.3 L953.7,412.1 L957.5,412.0 L961.3,411.8 L964.9,411.6 L968.5,411.4 L972.0,411.2 L975.4,411.0 L980.3,410.7 L985.1,410.4 L989.6,410.1 L993.9,409.8 L998.0,409.5 L1002.0,409.2 L1005.9,408.8 L1009.6,408.5 L1013.3,408.0 L1016.9,407.6 L1020.5,407.1 L1024.1,406.6 L1027.7,406.0 L1031.3,405.4 L1035.0,404.8 L1038.8,404.0 L1042.8,403.2 L1046.5,402.4 L1050.1,401.6 L1053.6,400.8 L1057.1,399.9 L1060.6,399.1 L1064.1,398.1 L1067.5,397.2 L1071.0,396.2 L1074.5,395.1 L1078.1,394.0 L1081.8,392.8 L1085.6,391.6 L1089.5,390.3 L1093.5,388.9 L1097.7,387.5 L1102.0,386.0 L1106.5,384.3 L1111.3,382.6 L1114.4,381.5 L1117.6,380.3 L1120.9,379.1 L1124.3,377.9 L1127.8,376.6 L1131.3,375.2 L1134.9,373.9 L1138.5,372.5 L1142.2,371.0 L1146.0,369.6 L1149.7,368.1 L1153.6,366.6 L1157.4,365.1 L1161.3,363.5 L1165.2,362.0 L1169.1,360.4 L1173.0,358.8 L1177.0,357.2 L1180.9,355.6 L1184.8,354.0 L1188.8,352.3 L1192.7,350.7 L1196.6,349.1 L1200.5,347.4 L1204.3,345.8 L1208.1,344.2 L1211.9,342.5 L1215.6,340.9 L1219.3,339.3 L1223.1,337.6 L1226.8,335.9 L1230.6,334.2 L1234.5,332.4 L1238.3,330.7 L1242.2,328.9 L1246.1,327.0 L1250.0,325.2 L1253.9,323.3 L1257.8,321.5 L1261.7,319.6 L1265.5,317.8 L1269.4,315.9 L1273.3,314.0 L1277.1,312.2 L1280.9,310.4 L1284.6,308.6 L1288.3,306.8 L1292.0,305.0 L1295.6,303.2 L1299.2,301.5 L1302.8,299.8 L1306.2,298.2 L1309.6,296.6 L1313.0,295.0 L1316.2,293.5 L1319.4,292.0 L1323.9,289.9 L1328.2,287.9 L1332.4,286.0 L1336.5,284.1 L1340.4,282.3 L1344.3,280.5 L1348.0,278.8 L1351.7,277.2 L1355.3,275.5 L1358.8,273.9 L1362.3,272.4 L1365.8,270.8 L1369.2,269.3 L1372.6,267.9 L1376.1,266.4 L1379.5,265.0 L1383.0,263.6 L1386.5,262.2 L1390.0,260.7 L1394.4,259.1 L1398.9,257.4 L1403.5,255.8 L1408.1,254.2 L1412.8,252.6 L1417.5,251.0 L1422.0,249.5 L1426.5,248.1 L1430.9,246.7 L1435.0,245.4 L1438.9,244.2 L1442.6,243.0 L1445.9,242.0 L1448.9,241.1 L1451.4,240.2 L1453.6,239.5 M113.1,562.6 L99.4,545.3 M133.5,546.3 L119.8,529.1 M150.9,532.5 L137.3,515.2 M169.4,518.1 L156.0,500.7 M188.0,504.1 L174.9,486.4 M208.7,489.4 L196.4,471.1 M229.6,476.0 L218.2,457.2 M247.6,465.5 L236.8,446.3 M268.9,454.0 L258.8,434.4 M290.0,443.6 L280.7,423.7 M311.1,434.1 L302.5,413.9 M333.4,425.1 L325.5,404.6 M356.0,417.1 L349.1,396.2 M378.6,410.2 L372.6,389.0 M401.3,404.2 L396.1,382.8 M424.3,398.9 L419.7,377.4 M448.1,394.3 L444.4,372.6 M472.0,390.7 L469.0,368.8 M495.8,388.0 L493.8,366.0 M519.6,386.2 L518.4,364.2 M539.6,385.5 L539.2,363.5 M564.3,385.6 L564.9,363.6 M588.9,386.7 L590.2,364.7 M611.8,388.4 L613.9,366.5 M634.5,391.2 L638.0,369.5 M657.6,396.2 L663.3,375.0 M679.0,402.5 L685.2,381.3 M705.3,409.6 L711.3,388.5 M726.8,416.0 L732.9,394.9 M751.1,422.2 L755.7,400.7 M775.9,426.5 L779.0,404.7 M799.2,429.5 L801.7,407.6 M824.2,432.0 L826.1,410.1 M845.5,433.7 L847.0,411.7 M870.6,435.0 L871.4,413.0 M895.9,435.5 L895.9,413.5 M921.7,435.2 L921.2,413.2 M942.7,434.6 L941.9,412.6 M969.7,433.4 L968.5,411.4 M991.1,432.1 L989.6,410.1 M1015.8,429.9 L1013.3,408.0 M1043.1,425.6 L1038.8,404.0 M1066.2,420.3 L1060.6,399.1 M1088.6,413.8 L1081.8,392.8 M1113.9,405.1 L1106.5,384.3 M1135.5,397.2 L1127.8,376.6 M1157.8,388.6 L1149.7,368.1 M1181.3,379.2 L1173.0,358.8 M1201.2,371.0 L1192.7,350.7 M1224.4,361.1 L1215.6,340.9 M1247.6,350.6 L1238.3,330.7 M1267.3,341.3 L1257.8,321.5 M1290.4,330.2 L1280.9,310.4 M1312.2,319.7 L1302.8,299.8 M1333.1,309.9 L1323.9,289.9 M1353.5,300.5 L1344.3,280.5 M1377.9,289.5 L1369.2,269.3 M1398.0,281.3 L1390.0,260.7 M1419.8,273.4 L1412.8,252.6 M1441.6,266.4 L1435.0,245.4"/>
<path d="M1455,240 L1447,900 L1440,1650 M2000,240 L1992,900 L1985,1650 M2138,168 L2120,900 L2098,1650 M1455,240 L2000,240 L2138,168 M1455,292 L2000,296 M2000,296 L2130,225"/>
<path d="M1620,140 C1641.7,141.7 1703.3,145.7 1750,150 C1796.7,154.3 1836.7,164.0 1900,166 C1963.3,168.0 2091.7,162.7 2130,162"/>
<path d="M1620,140 L1610,200"/>
<path d="M1610,200 C1633.3,202.5 1701.7,214.2 1750,215 C1798.3,215.8 1848.3,206.7 1900,205 C1951.7,203.3 2033.3,205.0 2060,205"/>
<path d="M1560,250 L1610,200"/>
<path d="M2040,380 L2115,330 M2035,470 L2115,430 M2030,560 L2115,520 M2025,690 L2095,630 M2020,790 L2085,745 M2020,885 L2080,850 M2020,1010 L2080,965 M2005,1165 L2065,1110 M2005,1290 L2060,1250 M1995,1430 L2055,1365 M1995,1560 L2050,1510"/>
<ellipse cx="1890" cy="398" rx="55" ry="60"/>
<path d="M1855,345 C1850.8,353.3 1830.8,377.5 1830,395 C1829.2,412.5 1846.7,440.8 1850,450"/>
<ellipse cx="1605" cy="795" rx="48" ry="50"/>
<path d="M1580,755 C1577.0,761.7 1562.0,781.2 1562,795 C1562.0,808.8 1577.0,830.8 1580,838"/>
<ellipse cx="1912" cy="1218" rx="50" ry="66"/>
<path d="M1880,1170 C1876.7,1178.3 1859.7,1202.5 1860,1220 C1860.3,1237.5 1878.3,1265.8 1882,1275"/>
<path d="M1560,480 C1571.7,460.0 1598.3,443.3 1620,440 C1641.7,436.7 1671.7,448.3 1690,460 C1708.3,471.7 1713.3,501.7 1730,510 C1746.7,518.3 1770.0,501.7 1790,510 C1810.0,518.3 1838.3,540.0 1850,560 C1861.7,580.0 1866.7,608.3 1860,630 C1853.3,651.7 1831.7,676.7 1810,690 C1788.3,703.3 1753.3,711.7 1730,710 C1706.7,708.3 1685.0,695.0 1670,680 C1655.0,665.0 1655.0,631.7 1640,620 C1625.0,608.3 1595.0,620.0 1580,610 C1565.0,600.0 1553.3,581.7 1550,560 C1546.7,538.3 1548.3,500.0 1560,480Z"/>
<path d="M1590,440 C1578.3,446.7 1535.8,461.7 1520,480 C1504.2,498.3 1495.0,528.3 1495,550 C1495.0,571.7 1507.5,596.7 1520,610 C1532.5,623.3 1561.7,626.7 1570,630"/>
<path d="M1645,640 C1647.5,648.3 1647.5,675.8 1660,690 C1672.5,704.2 1710.0,719.2 1720,725"/>
<path d="M1600,940 C1612.5,925.0 1640.0,903.3 1660,900 C1680.0,896.7 1703.3,913.3 1720,920 C1736.7,926.7 1743.3,928.3 1760,940 C1776.7,951.7 1806.7,970.0 1820,990 C1833.3,1010.0 1838.3,1036.7 1840,1060 C1841.7,1083.3 1840.0,1110.0 1830,1130 C1820.0,1150.0 1798.3,1170.0 1780,1180 C1761.7,1190.0 1738.3,1195.0 1720,1190 C1701.7,1185.0 1681.7,1168.3 1670,1150 C1658.3,1131.7 1651.7,1098.3 1650,1080 C1648.3,1061.7 1666.7,1048.3 1660,1040 C1653.3,1031.7 1622.5,1038.3 1610,1030 C1597.5,1021.7 1586.7,1005.0 1585,990 C1583.3,975.0 1587.5,955.0 1600,940Z"/>
<path d="M1620,890 C1610.0,896.7 1573.3,911.7 1560,930 C1546.7,948.3 1538.3,978.3 1540,1000 C1541.7,1021.7 1556.7,1046.7 1570,1060 C1583.3,1073.3 1611.7,1076.7 1620,1080"/>
<path d="M1630,1100 C1633.3,1111.7 1635.0,1151.7 1650,1170 C1665.0,1188.3 1708.3,1203.3 1720,1210"/>
<path d="M1540,1330 C1553.3,1311.7 1580.0,1295.0 1600,1290 C1620.0,1285.0 1643.3,1291.7 1660,1300 C1676.7,1308.3 1683.3,1335.0 1700,1340 C1716.7,1345.0 1741.7,1325.0 1760,1330 C1778.3,1335.0 1799.2,1353.3 1810,1370 C1820.8,1386.7 1828.3,1411.7 1825,1430 C1821.7,1448.3 1805.8,1470.0 1790,1480 C1774.2,1490.0 1746.7,1493.3 1730,1490 C1713.3,1486.7 1703.3,1458.3 1690,1460 C1676.7,1461.7 1666.7,1491.7 1650,1500 C1633.3,1508.3 1608.3,1515.0 1590,1510 C1571.7,1505.0 1551.7,1488.3 1540,1470 C1528.3,1451.7 1520.0,1423.3 1520,1400 C1520.0,1376.7 1526.7,1348.3 1540,1330Z"/>
<path d="M1560,1290 C1550.0,1300.0 1512.5,1326.7 1500,1350 C1487.5,1373.3 1481.7,1405.0 1485,1430 C1488.3,1455.0 1502.5,1483.3 1520,1500 C1537.5,1516.7 1578.3,1525.0 1590,1530"/>
<path d="M1700,1480 C1706.7,1485.0 1723.3,1507.5 1740,1510 C1756.7,1512.5 1790.0,1497.5 1800,1495"/>
<path d="M20,660 L740,790 L1440,928 M0,924 L1000,1150 L1440,950 M1000,1150 L1000,1365 M310,1225 L1000,1365 L1440,1180 M0,690 L80,685"/>
<path d="M380,1100 L645,1150 L655,1245 L375,1200Z"/>
<path d="M755,1155 L1000,1210 M745,1255 L1000,1310 M755,1155 L745,1255"/>
<path d="M1015,1200 L1250,1140 L1255,1210 L1020,1280Z"/>
<path d="M1290,1110 L1440,1050 M1295,1170 L1440,1110 M1290,1110 L1295,1170"/>
<path d="M415.0,1192.8 L444.4,1122.8 M445.0,1198.4 L473.1,1128.4 M475.0,1204.1 L501.9,1134.1 M505.0,1209.7 L530.6,1139.7 M535.0,1215.3 L559.4,1145.3 M565.0,1220.9 L588.1,1150.9 M595.0,1226.6 L616.9,1156.6 M625.0,1232.2 L645.6,1162.2" style="stroke-width:2.5"/>
<path d="M785.7,1253.6 L814.3,1178.6 M817.1,1260.7 L842.9,1185.7 M848.6,1267.9 L871.4,1192.9 M880.0,1275.0 L900.0,1200.0 M911.4,1282.1 L928.6,1207.1 M942.9,1289.3 L957.1,1214.3 M974.3,1296.4 L985.7,1221.4" style="stroke-width:2.5"/>
<path d="M1045.0,1265.0 L1073.9,1196.4 M1075.0,1255.0 L1101.8,1189.3 M1105.0,1245.0 L1129.6,1182.1 M1135.0,1235.0 L1157.5,1175.0 M1165.0,1225.0 L1185.4,1167.9 M1195.0,1215.0 L1213.2,1160.7 M1225.0,1205.0 L1241.1,1153.6" style="stroke-width:2.5"/>
<path d="M70,775 L150,725 L160,780 L100,805Z"/>
<path d="M175,775 L255,765 L250,840 L180,840Z"/>
<path d="M340,800 L440,765 L420,855Z"/>
<path d="M505,815 L615,810 L615,910 L510,900Z"/>
<path d="M730,815 L830,825 L815,920 L720,910Z"/>
<path d="M20,850 L140,840 L150,900 L50,905Z"/>
<path d="M300,840 L365,850 L350,920 L290,905Z"/>
<path d="M230,900 L320,905 L310,940 L250,940Z"/>
<path d="M380,900 L460,925 L430,990 L355,965Z"/>
<path d="M480,870 L550,880 L520,960 L465,950Z"/>
<path d="M545,945 L620,960 L630,1040 L530,1015Z"/>
<path d="M640,960 L720,925 L775,975 L700,1040Z"/>
<path d="M800,960 L880,1000 L850,1080 L760,1050Z"/>
<path d="M830,920 L950,905 L975,960 L860,990Z"/>
<path d="M960,960 L1060,970 L1030,1050 L950,1040Z"/>
<path d="M1060,960 L1150,925 L1210,970 L1090,1010Z"/>
<path d="M880,1090 L1000,1060 L1080,1090 L950,1130Z"/>
<path d="M0,1330 C16.7,1328.7 66.7,1317.0 100,1322 C133.3,1327.0 175.0,1340.3 200,1360 C225.0,1379.7 243.3,1410.0 250,1440 C256.7,1470.0 241.7,1523.3 240,1540"/>
<path d="M0,1370 C13.3,1370.8 53.3,1366.7 80,1375 C106.7,1383.3 141.7,1399.2 160,1420 C178.3,1440.8 186.7,1473.3 190,1500 C193.3,1526.7 181.7,1566.7 180,1580"/>
<path d="M0,1400 L150,1570 L240,1540 L310,1520 L320,1650"/>
<path d="M7.0,1427.8 L66.5,1406.0 M21.0,1443.2 L79.5,1418.0 M35.0,1458.8 L92.5,1430.0 M49.0,1474.2 L105.5,1442.0 M63.0,1489.8 L118.5,1454.0 M77.0,1505.2 L131.5,1466.0 M91.0,1520.8 L144.5,1478.0 M105.0,1536.2 L157.5,1490.0 M119.0,1551.8 L170.5,1502.0 M133.0,1567.2 L183.5,1514.0" style="stroke-width:2.5"/>
<path d="M485,1300 L470,1650 M485,1300 L660,1290 L650,1650 M540,1275 L830,1330 L800,1650 M485,1300 L540,1275"/>
<path d="M520,1395 L610,1390 L590,1650 M520,1395 L500,1650 M545,1415 L530,1650 M575,1410 L560,1650"/>
<path d="M700,1360 L740,1365 L730,1415 L695,1410Z"/>
<path d="M700,1650 L705,1500 L770,1470 L765,1650 M735,1490 L730,1650"/>
</g>
<g transform="translate(2140,1100) scale(0.5)">
<path d="M60,210 C60.8,230.0 62.5,290.0 65,330 C67.5,370.0 65.8,408.3 75,450 C84.2,491.7 99.2,540.0 120,580 C140.8,620.0 170.0,660.0 200,690 C230.0,720.0 261.7,743.3 300,760 C338.3,776.7 386.7,790.0 430,790 C473.3,790.0 515.0,776.7 560,760 C605.0,743.3 651.7,716.7 700,690 C748.3,663.3 808.3,621.7 850,600 C891.7,578.3 920.0,569.2 950,560 C980.0,550.8 1006.7,541.7 1030,545 C1053.3,548.3 1080.0,574.2 1090,580"/>
<path d="M260,95 C261.7,112.5 265.0,165.8 270,200 C275.0,234.2 278.3,258.3 290,300 C301.7,341.7 318.3,405.0 340,450 C361.7,495.0 391.7,540.8 420,570 C448.3,599.2 480.0,615.8 510,625 C540.0,634.2 571.7,634.2 600,625 C628.3,615.8 651.7,592.5 680,570 C708.3,547.5 740.0,513.3 770,490 C800.0,466.7 830.0,442.5 860,430 C890.0,417.5 920.0,414.2 950,415 C980.0,415.8 1015.0,425.0 1040,435 C1065.0,445.0 1090.0,468.3 1100,475"/>
<path d="M60,210 L260,95"/>
<path d="M135,215 C140.0,228.3 154.2,267.5 165,295 C175.8,322.5 187.5,350.8 200,380 C212.5,409.2 225.0,443.3 240,470 C255.0,496.7 271.7,516.7 290,540 C308.3,563.3 325.0,586.7 350,610 C375.0,633.3 410.0,665.0 440,680 C470.0,695.0 503.3,700.0 530,700 C556.7,700.0 573.3,692.5 600,680 C626.7,667.5 658.3,643.3 690,625 C721.7,606.7 756.7,587.5 790,570 C823.3,552.5 860.0,531.7 890,520 C920.0,508.3 945.0,502.5 970,500 C995.0,497.5 1028.3,504.2 1040,505" style="stroke-dasharray:12 30;stroke-width:3;stroke:#8c8c8c"/>
<path d="M80,480 L80,770 M115,580 L115,770 M150,640 L150,770 M190,690 L190,775 M230,725 L230,780 M270,750 L270,785 M300,765 L300,785"/>
<path d="M0,770 L400,790 M0,845 L365,812 L350,1330 M405,790 L380,1350 M30,855 L350,822 M175,850 L160,1110 M20,1120 L190,1110 L250,1150 M20,850 L20,1650"/>
<path d="M20.0,1152.5 L255.0,1161.2 M20.0,1177.5 L265.0,1183.8 M20.0,1202.5 L275.0,1206.2 M20.0,1227.5 L285.0,1228.8 M20.0,1252.5 L295.0,1251.2 M20.0,1277.5 L305.0,1273.8 M20.0,1302.5 L315.0,1296.2 M20.0,1327.5 L325.0,1318.8" style="stroke-width:3;stroke:#8a8a8a"/>
<path d="M20.0,1167.5 L245.0,1176.2 M20.0,1192.5 L255.0,1198.8 M20.0,1217.5 L265.0,1221.2 M20.0,1242.5 L275.0,1243.8 M20.0,1267.5 L285.0,1266.2 M20.0,1292.5 L295.0,1288.8 M20.0,1317.5 L305.0,1311.2 M20.0,1342.5 L315.0,1333.8" style="stroke-width:3;stroke:#8a8a8a"/>
<path d="M20.0,1360.8 L642.5,1369.2 M20.0,1382.5 L627.5,1387.5 M20.0,1404.2 L612.5,1405.8 M20.0,1425.8 L597.5,1424.2 M20.0,1447.5 L582.5,1442.5 M20.0,1469.2 L567.5,1460.8" style="stroke-width:3;stroke:#8a8a8a"/>
<path d="M20.0,1378.8 L650.8,1387.3 M20.0,1400.5 L632.5,1406.0 M20.0,1422.2 L614.2,1424.7 M20.0,1443.8 L595.8,1443.3 M20.0,1465.5 L577.5,1462.0 M20.0,1487.2 L559.2,1480.7" style="stroke-width:3;stroke:#8a8a8a"/>
<path d="M345.5,1493.0 L415.0,1513.0 M376.5,1479.0 L445.0,1499.0 M407.5,1465.0 L475.0,1485.0 M438.5,1451.0 L505.0,1471.0 M469.5,1437.0 L535.0,1457.0 M500.5,1423.0 L565.0,1443.0 M531.5,1409.0 L595.0,1429.0 M562.5,1395.0 L625.0,1415.0 M593.5,1381.0 L655.0,1401.0 M624.5,1367.0 L685.0,1387.0" style="stroke-width:3;stroke:#8a8a8a"/>
<path d="M20,1495 L470,1495 M20,1616 L470,1600 M50,1500 L50,1610 M130,1500 L130,1610 M210,1500 L210,1610 M280,1500 L280,1610 M350,1500 L350,1610 M420,1500 L420,1610 M480,1500 L480,1610"/>
<path d="M80,1500 L80,1610 M160,1500 L160,1610 M240,1500 L240,1610 M310,1500 L310,1610 M380,1500 L380,1610"/>
<path d="M961,591 C956.7,597.2 948.2,608.8 935,628 C921.8,647.2 897.8,673.8 882,706 C866.2,738.2 851.3,784.3 840,821 C828.7,857.7 822.7,889.3 814,926 C805.3,962.7 798.3,1003.7 788,1041 C777.7,1078.3 762.5,1114.3 752,1150 C741.5,1185.7 735.5,1224.5 725,1255 C714.5,1285.5 701.5,1308.8 689,1333 C676.5,1357.2 661.8,1377.7 650,1400 C638.2,1422.3 629.8,1439.7 618,1467 C606.2,1494.3 587.5,1538.5 579,1564 C570.5,1589.5 569.0,1610.7 567,1620"/>
<path d="M975,590 C980.8,601.7 997.5,635.0 1010,660 C1022.5,685.0 1038.3,715.0 1050,740 C1061.7,765.0 1081.7,786.7 1080,810 C1078.3,833.3 1053.3,855.0 1040,880 C1026.7,905.0 1013.3,933.3 1000,960 C986.7,986.7 971.7,1013.3 960,1040 C948.3,1066.7 938.3,1090.0 930,1120 C921.7,1150.0 916.7,1185.0 910,1220 C903.3,1255.0 896.7,1293.3 890,1330 C883.3,1366.7 880.0,1405.0 870,1440 C860.0,1475.0 841.7,1505.0 830,1540 C818.3,1575.0 805.0,1631.7 800,1650"/>
<path d="M945,640 C947.5,653.3 950.8,693.3 960,720 C969.2,746.7 995.8,770.0 1000,800 C1004.2,830.0 995.0,866.7 985,900 C975.0,933.3 954.2,966.7 940,1000 C925.8,1033.3 913.3,1058.3 900,1100 C886.7,1141.7 873.3,1200.0 860,1250 C846.7,1300.0 836.7,1348.3 820,1400 C803.3,1451.7 773.3,1518.3 760,1560 C746.7,1601.7 743.3,1635.0 740,1650"/>
<path d="M957.6,595.8 L979.6,599.1 M950.8,605.5 L988.7,617.4 M944.0,615.1 L997.8,635.7 M937.3,624.8 L1007.0,653.9 M925.8,641.6 L1017.0,673.9 M912.0,661.9 L1027.4,694.8 M898.1,682.3 L1037.8,715.7 M884.3,702.6 L1048.3,736.5 M872.9,731.0 L1056.5,755.2 M861.9,761.0 L1064.3,773.5 M851.0,791.0 L1072.2,791.7 M840.0,821.0 L1080.0,810.0 M833.2,848.4 L1069.6,828.3 M826.4,875.8 L1059.1,846.5 M819.7,903.2 L1048.7,864.8 M812.9,931.0 L1038.3,883.5 M806.1,961.0 L1027.8,904.3 M799.3,991.0 L1017.4,925.2 M792.5,1021.0 L1007.0,946.1 M784.9,1050.5 L996.5,967.0 M775.5,1078.9 L986.1,987.8 M766.1,1107.3 L975.7,1008.7 M756.7,1135.8 L965.2,1029.6 M748.5,1163.7 L956.1,1050.4 M741.4,1191.1 L948.3,1071.3 M734.4,1218.5 L940.4,1092.2 M727.3,1245.9 L932.6,1113.0 M718.7,1268.6 L926.5,1137.4 M709.3,1288.9 L921.3,1163.5 M700.0,1309.3 L916.1,1189.6 M690.6,1329.6 L910.9,1215.7 M680.5,1347.6 L905.7,1243.9 M670.3,1365.0 L900.4,1272.6 M660.2,1382.5 L895.2,1301.3 M650.0,1400.0 L890.0,1330.0 M641.7,1417.5 L884.8,1358.7 M633.3,1435.0 L879.6,1387.4 M625.0,1452.4 L874.3,1416.1 M616.3,1471.2 L868.3,1444.3 M606.1,1496.5 L857.8,1470.4 M596.0,1521.8 L847.4,1496.5 M585.8,1547.1 L837.0,1522.6 M578.0,1568.9 L827.4,1549.6 M574.8,1583.5 L819.6,1578.3 M571.7,1598.1 L811.7,1607.0 M568.6,1612.7 L803.9,1635.7" style="stroke-width:3;stroke:#8a8a8a"/>
<path d="M485.7,1640.7 L622.9,1643.6 M497.1,1622.1 L628.6,1630.7 M508.6,1603.6 L634.3,1617.9 M520.0,1585.0 L640.0,1605.0 M531.4,1566.4 L645.7,1592.1 M542.9,1547.9 L651.4,1579.3 M554.3,1529.3 L657.1,1566.4 M566.4,1517.1 L662.9,1555.7 M579.3,1511.4 L668.6,1547.1 M592.1,1505.7 L674.3,1538.6 M605.0,1500.0 L680.0,1530.0 M617.9,1494.3 L685.7,1521.4 M630.7,1488.6 L691.4,1512.9 M643.6,1482.9 L697.1,1504.3" style="stroke-width:3;stroke:#8a8a8a"/>
<path d="M1215,205 L1385,205 L1385,295 L1225,290 M1215,205 L1215,285 M1240,215 L1240,250 M1245,215 L1385,215 M1245,250 L1385,250"/>
<path d="M1220,290 C1220.3,305.0 1222.8,353.3 1222,380 C1221.2,406.7 1222.0,420.0 1215,450 C1208.0,480.0 1202.5,523.3 1180,560 C1157.5,596.7 1096.7,651.7 1080,670"/>
<path d="M1385,295 C1385.0,312.5 1385.8,365.8 1385,400 C1384.2,434.2 1387.5,463.3 1380,500 C1372.5,536.7 1355.0,588.3 1340,620 C1325.0,651.7 1310.0,672.5 1290,690 C1270.0,707.5 1255.0,728.3 1220,725 C1185.0,721.7 1103.3,679.2 1080,670"/>
<path d="M1370,560 C1371.3,568.3 1383.0,595.0 1378,610 C1373.0,625.0 1346.3,643.3 1340,650"/>
<path d="M1680,375 C1700.0,380.8 1755.0,399.2 1800,410 C1845.0,420.8 1900.0,437.5 1950,440 C2000.0,442.5 2058.3,429.2 2100,425 C2141.7,420.8 2167.3,412.5 2200,415 C2232.7,417.5 2280.0,435.8 2296,440"/>
<path d="M1640,612 C1650.0,608.7 1673.3,594.0 1700,592 C1726.7,590.0 1758.3,595.3 1800,600 C1841.7,604.7 1903.3,615.0 1950,620 C1996.7,625.0 2051.7,623.3 2080,630 C2108.3,636.7 2111.7,640.0 2120,660 C2128.3,680.0 2126.7,718.3 2130,750 C2133.3,781.7 2133.3,816.7 2140,850 C2146.7,883.3 2155.0,916.7 2170,950 C2185.0,983.3 2209.0,1028.3 2230,1050 C2251.0,1071.7 2285.0,1075.0 2296,1080"/>
<path d="M1700,490 C1713.3,495.8 1750.0,515.8 1780,525 C1810.0,534.2 1845.0,541.7 1880,545 C1915.0,548.3 1953.3,543.3 1990,545 C2026.7,546.7 2068.3,550.0 2100,555 C2131.7,560.0 2160.0,557.5 2180,575 C2200.0,592.5 2208.3,627.5 2220,660 C2231.7,692.5 2240.0,736.7 2250,770 C2260.0,803.3 2275.0,845.0 2280,860" style="stroke-dasharray:12 30;stroke-width:3;stroke:#8c8c8c"/>
<path d="M1085,800 C1120.8,798.7 1227.5,796.2 1300,792 C1372.5,787.8 1483.3,777.8 1520,775"/>
<path d="M1080,800 L1075,1110 M1520,775 L1518,1110 M1520,775 L1500,715 L1650,700 L1650,1005 M1640,615 L1650,700"/>
<path d="M1650,755 L1805,752 L1808,825 L1955,828 L1955,918 L1780,925 L1778,952 L1650,948"/>
<path d="M1730.6,880.0 L1950.0,884.4 M1731.9,890.0 L1950.0,893.1 M1733.1,900.0 L1950.0,901.9 M1734.4,910.0 L1950.0,910.6" style="stroke-width:3;stroke:#8a8a8a"/>
<path d="M2090,625 C2094.2,630.8 2111.3,609.2 2115,660 C2118.7,710.8 2117.0,879.2 2112,930 C2107.0,980.8 2089.5,959.2 2085,965"/>
<path d="M2085,965 L1850,975"/>
<path d="M1735,615 h75 v75 h-75Z"/>
<path d="M1930,680 h75 v70 h-75Z"/>
<path d="M1860,985 L1855,1380 M1885,985 L1880,1380 M1930,985 L1925,1380 M1965,985 L1960,1380 M2010,985 L2005,1330 M2045,985 L2040,1340"/>
<path d="M1670,955 L1780,955 M1680,960 L1690,1010 M1520,1005 L1690,1010 L1690,1480 M1520,1050 L1640,1048 M1520,1110 L1690,1105 L1640,1010"/>
<path d="M1690,1310 L1800,1310 Q1835,1310 1835,1280 L1835,1000"/>
<path d="M1765,1085 h55 v95 h-55Z"/>
<path d="M1790,1370 L2080,1360 L2095,1650 M1790,1370 L1785,1440 L1685,1450 M2010,1310 L2085,1360 M1830,1455 L2090,1450 M1835,1455 L1810,1530 L1690,1550 M1770,1650 L1770,1580 L1840,1580 L1840,1650"/>
<path d="M1945,1480 h60 v75 h-60Z"/>
<path d="M1005,1060 L1000,1290 M1005,1060 L1060,1110 L1215,1125 L1215,1340 M1100,1125 L1085,1330 M985,1270 L1060,1330 L1200,1330 L1200,1400 L1060,1400 L1060,1330 M985,1270 L980,1330 L1055,1385 M1080,1340 L1200,1400"/>
<path d="M1000,920 L1030,925 L1020,1010 L980,1005Z"/>
<path d="M1060,1400 L1055,1650 M900,1480 L890,1650"/>
<path d="M950,1425 L1000,1440 L1000,1545 L950,1530Z"/>
<path d="M1095,1490 L1170,1500 L1165,1600 L1095,1590Z"/>
<path d="M1170,865 h75 v125 h-75Z"/>
<path d="M1355,878 h75 v110 h-75Z"/>
<path d="M1230,1040 h90 v70 h-90Z"/>
<path d="M1355,1140 h75 v100 h-75Z"/>
<path d="M1245,1275 h65 v120 h-65Z"/>
<path d="M1515,1200 h70 v115 h-70Z"/>
<path d="M1430,1375 h75 v100 h-75Z"/>
<path d="M1235,1650 L1235,1500 L1250,1475 L1500,1475 L1515,1500 M1395,1490 L1395,1650"/>
</g>
<g transform="translate(2587,850) scale(0.5)">
<path d="M210,375 L725,80 L1185,95 L685,395Z"/>
<path d="M210,375 L196,1090 M685,395 L672,1140 M481,1140 L676,1140 L796,1085 M786,870 L1051,935 L1146,865 L1216,920"/>
<path d="M1185,95 C1185.0,129.2 1187.5,215.8 1185,300 C1182.5,384.2 1176.5,505.8 1170,600 C1163.5,694.2 1150.0,820.8 1146,865"/>
<path d="M790,1085 C789.3,1049.2 785.2,934.2 786,870 C786.8,805.8 787.7,750.0 795,700 C802.3,650.0 814.2,606.7 830,570 C845.8,533.3 867.5,500.0 890,480 C912.5,460.0 941.7,450.0 965,450 C988.3,450.0 1014.5,455.0 1030,480 C1045.5,505.0 1053.7,546.7 1058,600 C1062.3,653.3 1057.2,744.2 1056,800 C1054.8,855.8 1051.8,912.5 1051,935"/>
<path d="M1370,930 C1378.3,941.7 1406.7,971.7 1420,1000 C1433.3,1028.3 1441.7,1066.7 1450,1100 C1458.3,1133.3 1461.7,1166.7 1470,1200 C1478.3,1233.3 1485.0,1271.7 1500,1300 C1515.0,1328.3 1535.0,1351.7 1560,1370 C1585.0,1388.3 1616.7,1400.8 1650,1410 C1683.3,1419.2 1725.0,1418.3 1760,1425 C1795.0,1431.7 1828.3,1437.5 1860,1450 C1891.7,1462.5 1925.0,1481.7 1950,1500 C1975.0,1518.3 1996.7,1535.0 2010,1560 C2023.3,1585.0 2026.7,1635.0 2030,1650"/>
<path d="M1402,1580 C1418.3,1582.0 1467.0,1593.3 1500,1592 C1533.0,1590.7 1563.3,1576.0 1600,1572 C1636.7,1568.0 1683.3,1565.0 1720,1568 C1756.7,1571.0 1790.0,1576.3 1820,1590 C1850.0,1603.7 1886.7,1640.0 1900,1650"/>
<path d="M1386,1360 C1391.7,1370.0 1404.3,1402.5 1420,1420 C1435.7,1437.5 1456.7,1455.0 1480,1465 C1503.3,1475.0 1531.7,1475.8 1560,1480 C1588.3,1484.2 1618.3,1485.0 1650,1490 C1681.7,1495.0 1716.7,1498.3 1750,1510 C1783.3,1521.7 1825.0,1541.7 1850,1560 C1875.0,1578.3 1891.7,1610.0 1900,1620" style="stroke-dasharray:12 30;stroke-width:3;stroke:#8c8c8c"/>
</g>
<g transform="translate(300,1858) scale(0.5)">
<path d="M332,134 C334.2,161.7 340.3,222.3 345,300 C349.7,377.7 351.7,503.3 360,600 C368.3,696.7 386.7,824.2 395,880 C403.3,935.8 407.5,925.8 410,935"/>
<path d="M410,935 C421.7,949.2 448.3,988.3 480,1020 C511.7,1051.7 580.0,1107.5 600,1125"/>
<path d="M490,134 C503.3,140.0 543.3,160.7 570,170 C596.7,179.3 621.7,185.8 650,190 C678.3,194.2 715.0,195.0 740,195 C765.0,195.0 778.3,193.3 800,190 C821.7,186.7 858.3,177.5 870,175"/>
<path d="M480,50 L545,70 L520,110 L490,95Z"/>
<path d="M595,170 L600,115 L670,110 L680,180"/>
<path d="M345,305 C362.5,312.5 412.5,335.5 450,350 C487.5,364.5 550.0,385.0 570,392"/>
<path d="M420,285 h40 v60 h-40Z"/>
<path d="M535,370 L560,315 L585,380"/>
<path d="M360,520 C370.0,524.2 401.7,536.7 420,545 C438.3,553.3 461.7,565.8 470,570"/>
<path d="M375,465 L425,470 L415,525 L380,520Z"/>
<path d="M890,40 C875.0,63.3 848.3,123.3 800,180 C751.7,236.7 655.0,323.3 600,380 C545.0,436.7 500.0,476.7 470,520 C440.0,563.3 432.5,600.0 420,640 C407.5,680.0 396.7,716.7 395,760 C393.3,803.3 407.5,876.7 410,900"/>
<path d="M1770,320 C1791.7,336.7 1868.3,380.0 1900,420 C1931.7,460.0 1948.3,516.7 1960,560 C1971.7,603.3 1973.3,640.0 1970,680 C1966.7,720.0 1955.0,763.3 1940,800 C1925.0,836.7 1903.3,865.8 1880,900 C1856.7,934.2 1813.3,987.5 1800,1005"/>
<path d="M570,390 L905,262 M1350,210 L1770,320 M570,400 L1090,560 L1770,325"/>
<path d="M565,390 C563.3,431.7 553.3,555.0 555,640 C556.7,725.0 567.5,819.2 575,900 C582.5,980.8 595.8,1087.5 600,1125"/>
<path d="M1090,560 C1086.7,600.0 1066.7,710.0 1070,800 C1073.3,890.0 1095.0,1015.0 1110,1100 C1125.0,1185.0 1151.7,1275.0 1160,1310"/>
<path d="M1075,570 C1079.2,625.0 1085.8,776.7 1100,900 C1114.2,1023.3 1150.0,1241.7 1160,1310"/>
<path d="M1775,325 C1775.8,370.8 1775.8,520.8 1780,600 C1784.2,679.2 1796.7,732.5 1800,800 C1803.3,867.5 1800.0,970.8 1800,1005"/>
<path d="M600,1125 C646.7,1141.7 786.7,1194.2 880,1225 C973.3,1255.8 1113.3,1295.8 1160,1310"/>
<path d="M1160,1310 C1216.7,1285.0 1393.3,1210.8 1500,1160 C1606.7,1109.2 1750.0,1030.8 1800,1005"/>
<path d="M560,555 L1060,735 M560,590 L1060,770"/>
<path d="M560,720 C600.0,736.7 715.8,795.0 800,820 C884.2,845.0 1020.8,861.7 1065,870"/>
<path d="M560,760 C600.0,776.7 715.8,835.8 800,860 C884.2,884.2 1020.8,897.5 1065,905"/>
<path d="M580,950 C616.7,965.0 713.3,1018.3 800,1040 C886.7,1061.7 1050.0,1073.3 1100,1080"/>
<path d="M585,985 C620.8,1000.0 713.3,1053.3 800,1075 C886.7,1096.7 1054.2,1108.3 1105,1115"/>
<path d="M1100,735 C1150.0,719.2 1286.7,680.8 1400,640 C1513.3,599.2 1716.7,515.0 1780,490"/>
<path d="M1100,770 C1150.0,753.7 1286.7,713.7 1400,672 C1513.3,630.3 1716.7,545.3 1780,520"/>
<path d="M1100,870 C1158.3,856.7 1335.0,825.0 1450,790 C1565.0,755.0 1733.3,681.7 1790,660"/>
<path d="M1105,905 C1162.5,891.7 1335.0,859.2 1450,825 C1565.0,790.8 1737.5,720.8 1795,700"/>
<path d="M1130,1080 C1191.7,1065.0 1388.3,1026.7 1500,990 C1611.7,953.3 1750.0,881.7 1800,860"/>
<path d="M1135,1115 C1195.8,1100.0 1389.2,1061.7 1500,1025 C1610.8,988.3 1750.0,916.7 1800,895"/>
<ellipse cx="783" cy="388" rx="65" ry="50"/>
<ellipse cx="1515" cy="342" rx="55" ry="48"/>
<ellipse cx="660" cy="505" rx="45" ry="55"/>
<ellipse cx="1135" cy="490" rx="55" ry="50"/>
<ellipse cx="1650" cy="475" rx="45" ry="52"/>
<ellipse cx="1240" cy="630" rx="45" ry="58"/>
<path d="M740,790 C741.7,780.8 740.8,746.7 750,735 C759.2,723.3 780.0,718.3 795,720 C810.0,721.7 830.8,728.3 840,745 C849.2,761.7 848.3,807.5 850,820"/>
<ellipse cx="1457" cy="735" rx="50" ry="50"/>
<ellipse cx="1665" cy="845" rx="42" ry="52"/>
<ellipse cx="975" cy="1000" rx="52" ry="58"/>
<ellipse cx="1272" cy="960" rx="45" ry="55"/>
<path d="M780,1165 L790,1100 L905,1125 L895,1195"/>
<path d="M835,1115 L828,1180"/>
<path d="M1490,1165 L1480,1062 L1595,1020 L1600,1115"/>
<path d="M1540,1040 L1545,1140"/>
<path d="M400,700 C411.7,690.0 444.2,656.7 470,640 C495.8,623.3 540.8,606.7 555,600"/>
<path d="M430,650 C441.7,656.7 478.3,678.3 500,690 C521.7,701.7 550.0,715.0 560,720"/>
<path d="M400,880 C411.7,875.0 443.3,856.7 470,850 C496.7,843.3 545.0,841.7 560,840"/>
<path d="M420,900 C433.3,908.3 473.3,935.8 500,950 C526.7,964.2 566.7,979.2 580,985"/>
<path d="M490,880 h50 v50 h-50Z"/>
<path d="M410,710 h40 v50 h-40Z"/>
<path d="M470,520 L560,560 M480,520 L560,505"/>
<path d="M1780,430 L1860,420 L1780,470"/>
<path d="M1790,560 C1813.3,561.7 1905.0,561.7 1930,570 C1955.0,578.3 1963.3,588.3 1940,610 C1916.7,631.7 1815.0,685.0 1790,700"/>
<path d="M1800,740 C1825.0,739.2 1926.7,726.7 1950,735 C1973.3,743.3 1963.3,762.5 1940,790 C1916.7,817.5 1831.7,881.7 1810,900"/>
<path d="M1800,1000 C1813.3,980.0 1855.0,921.7 1880,880 C1905.0,838.3 1938.3,771.7 1950,750"/>
<path d="M905,130 L915,375 M960,130 L985,385 M1095,130 L1112,420 M1150,130 L1165,430 M1200,130 L1180,430 M1235,130 L1245,395 M1305,130 L1335,370 M1348,130 L1362,330"/>
<path d="M915,375 L1110,420 L1165,435 L1360,335"/>
<path d="M965,165 L1090,170 M970,215 L1095,215 M1005,165 L1008,215 M1045,168 L1048,215 M1240,100 L1300,95 M1245,150 L1305,145 M990,360 L1100,395 M1250,370 L1320,350"/>
<path d="M1345,85 C1357.5,99.2 1390.8,144.2 1420,170 C1449.2,195.8 1461.7,215.0 1520,240 C1578.3,265.0 1728.3,306.7 1770,320"/>
<path d="M1360,215 L1530,250"/>
<path d="M1545,40 L1525,240 M1545,60 L1830,60 L1860,155 L2080,160 M1860,155 L1920,95 L2080,95 M2080,30 L2085,160 M1830,60 L1890,20 M1870,400 L2250,420 L2296,390 M2250,150 L2245,420"/>
<path d="M1650,135 h50 v60 h-50Z"/>
<path d="M1975,200 L2020,200 L2000,280 L1965,270Z"/>
<path d="M1815,240 h45 v70 h-45Z"/>
<path d="M1930,325 h45 v60 h-45Z"/>
<path d="M2080,415 L2080,275 L2180,275 L2180,400"/>
<path d="M2120,280 L2120,415"/>
<path d="M2100,40 L2175,10 L2165,110 L2105,105Z"/>
<path d="M443,547 C453.0,544.5 481.5,535.3 503,532 C524.5,528.7 560.5,527.8 572,527"/>
<path d="M438,597 C448.8,594.5 481.5,585.3 503,582 C524.5,578.7 556.3,577.8 567,577"/>
<path d="M428,631 C438.8,628.7 470.7,621.0 493,617 C515.3,613.0 550.5,608.7 562,607"/>
<path d="M493,730 L537,730 L532,800 L493,795Z"/>
<path d="M428,844 C438.8,841.5 469.8,832.3 493,829 C516.2,825.7 554.7,824.8 567,824"/>
<path d="M428,869 C439.7,867.3 474.8,860.7 498,859 C521.2,857.3 555.5,859.0 567,859"/>
<path d="M443,894 L577,953 M453,918 L587,993"/>
</g>
<g transform="translate(1448,1858) scale(0.5)">
<path d="M655,150 C662.5,145.8 642.5,130.3 700,125 C757.5,119.7 900.0,120.5 1000,118 C1100.0,115.5 1200.0,116.0 1300,110 C1400.0,104.0 1500.0,88.3 1600,82 C1700.0,75.7 1833.3,65.7 1900,72 C1966.7,78.3 1973.3,85.0 2000,120 C2026.7,155.0 2050.0,255.0 2060,282"/>
<path d="M890,310 C958.3,307.0 1165.0,298.3 1300,292 C1435.0,285.7 1573.3,273.2 1700,272 C1826.7,270.8 2000.0,282.8 2060,285"/>
<path d="M655,150 C653.3,166.7 645.8,216.7 645,250 C644.2,283.3 640.8,325.0 650,350 C659.2,375.0 691.7,391.7 700,400"/>
<path d="M655,150 C662.5,156.7 675.8,173.3 700,190 C724.2,206.7 768.3,230.8 800,250 C831.7,269.2 875.0,295.8 890,305"/>
<path d="M690,165 C708.3,163.8 770.0,152.2 800,158 C830.0,163.8 854.7,176.3 870,200 C885.3,223.7 888.3,283.3 892,300"/>
<path d="M720,145 C736.7,144.2 790.0,132.5 820,140 C850.0,147.5 882.5,162.5 900,190 C917.5,217.5 920.8,285.8 925,305"/>
<path d="M760,135 C776.7,134.2 830.0,122.5 860,130 C890.0,137.5 923.3,150.8 940,180 C956.7,209.2 956.7,284.2 960,305"/>
<path d="M690,200 L685,270 M715,215 L710,285 M690,200 L715,215 M685,270 L710,285"/>
<path d="M1050,125 C1057.5,137.5 1085.0,170.8 1095,200 C1105.0,229.2 1107.5,283.3 1110,300"/>
<path d="M1075,125 C1082.5,137.5 1110.0,171.2 1120,200 C1130.0,228.8 1132.5,281.7 1135,298"/>
<path d="M1180,120 C1187.5,133.3 1215.0,170.8 1225,200 C1235.0,229.2 1237.5,279.2 1240,295"/>
<path d="M1205,118 C1212.5,131.7 1240.0,170.7 1250,200 C1260.0,229.3 1262.5,278.3 1265,294"/>
<path d="M1320,110 C1327.5,123.3 1355.0,160.0 1365,190 C1375.0,220.0 1377.5,273.3 1380,290"/>
<path d="M1345,108 C1352.5,121.7 1380.0,160.0 1390,190 C1400.0,220.0 1402.5,271.7 1405,288"/>
<path d="M1470,100 C1475.8,113.3 1496.7,150.0 1505,180 C1513.3,210.0 1517.5,263.3 1520,280"/>
<path d="M1495,98 C1500.8,111.7 1521.7,149.7 1530,180 C1538.3,210.3 1542.5,263.3 1545,280"/>
<path d="M1600,90 C1605.8,105.0 1626.7,149.2 1635,180 C1643.3,210.8 1647.5,259.2 1650,275"/>
<path d="M1625,88 C1630.8,103.3 1651.7,148.8 1660,180 C1668.3,211.2 1672.5,259.2 1675,275"/>
<path d="M1760,80 C1765.0,95.0 1783.3,138.0 1790,170 C1796.7,202.0 1798.3,255.0 1800,272"/>
<path d="M1785,78 C1790.0,93.3 1808.3,137.7 1815,170 C1821.7,202.3 1823.3,255.0 1825,272"/>
<path d="M1890,75 C1895.0,90.8 1913.3,136.7 1920,170 C1926.7,203.3 1928.3,257.5 1930,275"/>
<path d="M1915,78 C1920.0,93.3 1938.3,136.8 1945,170 C1951.7,203.2 1953.3,259.2 1955,277"/>
<path d="M895,300 L900,545 M2060,285 L2040,510 M905,545 L1500,522 L2040,510"/>
<path d="M900,410 C916.7,408.3 966.7,410.0 1000,400 C1033.3,390.0 1066.7,362.5 1100,350 C1133.3,337.5 1158.3,328.3 1200,325 C1241.7,321.7 1300.0,322.5 1350,330 C1400.0,337.5 1450.0,360.8 1500,370 C1550.0,379.2 1600.0,388.3 1650,385 C1700.0,381.7 1750.0,357.5 1800,350 C1850.0,342.5 1910.0,338.3 1950,340 C1990.0,341.7 2025.0,356.7 2040,360"/>
<path d="M900,440 C916.7,438.7 966.7,441.2 1000,432 C1033.3,422.8 1066.7,396.2 1100,385 C1133.3,373.8 1158.3,367.5 1200,365 C1241.7,362.5 1300.0,362.5 1350,370 C1400.0,377.5 1450.0,400.8 1500,410 C1550.0,419.2 1600.0,428.3 1650,425 C1700.0,421.7 1750.0,397.5 1800,390 C1850.0,382.5 1910.0,378.3 1950,380 C1990.0,381.7 2025.0,396.7 2040,400"/>
<path d="M930,330 h45 v65 h-45Z"/>
<path d="M1180,415 h100 v95 h-100Z"/>
<path d="M1580,295 h75 v65 h-75Z"/>
<path d="M1815,420 h115 v65 h-115Z"/>
<path d="M830,310 h25 v70 h-25Z"/>
<path d="M650,300 C658.3,298.3 681.7,285.0 700,290 C718.3,295.0 743.3,311.7 760,330 C776.7,348.3 776.7,383.3 800,400 C823.3,416.7 883.3,425.0 900,430"/>
<path d="M660,340 C670.0,341.7 703.3,336.7 720,350 C736.7,363.3 743.3,402.5 760,420 C776.7,437.5 796.7,446.7 820,455 C843.3,463.3 886.7,467.5 900,470"/>
<path d="M700,400 C713.3,408.3 755.0,433.3 780,450 C805.0,466.7 830.0,486.7 850,500 C870.0,513.3 891.7,525.0 900,530"/>
<ellipse cx="700" cy="345" rx="25" ry="35"/>
<path d="M2040,490 L2170,485 L2165,1075 L1510,1082 M1590,515 L1592,545"/>
<path d="M1530,700 C1532.5,692.5 1535.0,665.3 1545,655 C1555.0,644.7 1574.2,638.8 1590,638 C1605.8,637.2 1625.8,638.0 1640,650 C1654.2,662.0 1666.7,685.0 1675,710 C1683.3,735.0 1682.5,773.3 1690,800 C1697.5,826.7 1701.7,855.0 1720,870 C1738.3,885.0 1770.0,888.3 1800,890 C1830.0,891.7 1876.7,875.0 1900,880 C1923.3,885.0 1936.7,900.0 1940,920 C1943.3,940.0 1918.3,975.0 1920,1000 C1921.7,1025.0 1945.0,1058.3 1950,1070"/>
<path d="M1545,715 C1550.0,707.2 1562.5,675.8 1575,668 C1587.5,660.2 1607.5,660.2 1620,668 C1632.5,675.8 1642.0,691.3 1650,715 C1658.0,738.7 1659.7,780.5 1668,810 C1676.3,839.5 1679.7,874.5 1700,892 C1720.3,909.5 1758.3,912.8 1790,915 C1821.7,917.2 1869.2,901.7 1890,905 C1910.8,908.3 1913.3,919.2 1915,935 C1916.7,950.8 1897.5,977.5 1900,1000 C1902.5,1022.5 1925.0,1058.3 1930,1070"/>
<path d="M1592,545 C1596.7,549.2 1605.3,562.5 1620,570 C1634.7,577.5 1661.7,576.7 1680,590 C1698.3,603.3 1718.3,626.7 1730,650 C1741.7,673.3 1738.3,711.7 1750,730 C1761.7,748.3 1775.0,753.3 1800,760 C1825.0,766.7 1873.3,760.0 1900,770 C1926.7,780.0 1946.7,798.3 1960,820 C1973.3,841.7 1980.0,872.5 1980,900 C1980.0,927.5 1963.3,970.8 1960,985"/>
<path d="M1710,515 C1715.0,520.0 1723.3,536.7 1740,545 C1756.7,553.3 1791.7,549.2 1810,565 C1828.3,580.8 1826.7,624.2 1850,640 C1873.3,655.8 1915.0,651.7 1950,660 C1985.0,668.3 2033.3,673.3 2060,690 C2086.7,706.7 2106.7,733.3 2110,760 C2113.3,786.7 2100.0,816.7 2080,850 C2060.0,883.3 2010.0,923.3 1990,960 C1970.0,996.7 1965.0,1051.7 1960,1070"/>
<path d="M1760,515 C1766.7,519.2 1786.7,530.8 1800,540 C1813.3,549.2 1828.3,555.8 1840,570 C1851.7,584.2 1850.0,613.3 1870,625 C1890.0,636.7 1926.7,632.5 1960,640 C1993.3,647.5 2043.3,653.3 2070,670 C2096.7,686.7 2111.7,728.3 2120,740"/>
<path d="M1610,1080 L1610,950 L1640,925 L1700,925 L1725,950 L1725,1075"/>
<path d="M1665,930 L1665,1078 M1640,935 L1640,1078 M1695,935 L1695,1078"/>
<path d="M720,450 C708.3,449.2 676.7,441.7 650,445 C623.3,448.3 585.0,454.2 560,470 C535.0,485.8 521.7,511.7 500,540 C478.3,568.3 448.3,603.3 430,640 C411.7,676.7 397.5,716.7 390,760 C382.5,803.3 381.7,853.3 385,900 C388.3,946.7 400.8,1005.0 410,1040 C419.2,1075.0 433.0,1089.2 440,1110 C447.0,1130.8 450.0,1155.8 452,1165"/>
<path d="M500,545 L960,690 M440,1110 L965,1360 M455,1170 L965,1410 M965,1360 L965,1410"/>
<path d="M960,690 C967.5,716.7 998.3,781.7 1005,850 C1011.7,918.3 1006.7,1015.0 1000,1100 C993.3,1185.0 970.8,1316.7 965,1360"/>
<path d="M470,780 L735,870 L715,965 L450,880Z"/>
<path d="M485,803 L575,832 L570,900 L478,870Z"/>
<path d="M600,850 L702,885 L692,945 L598,915Z"/>
<path d="M950,690 C950.8,675.0 946.7,620.0 955,600 C963.3,580.0 959.2,578.3 1000,570 C1040.8,561.7 1125.0,555.0 1200,550 C1275.0,545.0 1408.3,541.7 1450,540"/>
<path d="M1450,560 C1461.7,583.3 1503.3,651.7 1520,700 C1536.7,748.3 1548.3,800.0 1550,850 C1551.7,900.0 1541.7,953.3 1530,1000 C1518.3,1046.7 1493.3,1101.7 1480,1130 C1466.7,1158.3 1455.0,1163.3 1450,1170"/>
<path d="M960,690 L1450,560"/>
<path d="M965,1360 C1002.5,1348.3 1109.2,1321.7 1190,1290 C1270.8,1258.3 1406.7,1190.0 1450,1170"/>
<path d="M965,1410 C1004.2,1395.0 1119.2,1351.7 1200,1320 C1280.8,1288.3 1408.3,1236.7 1450,1220"/>
<path d="M1450,1170 L1450,1220"/>
<path d="M1000,640 C998.3,635.8 983.3,620.8 990,615 C996.7,609.2 1000.0,610.0 1040,605 C1080.0,600.0 1199.2,585.0 1230,585 C1260.8,585.0 1256.7,594.2 1225,605 C1193.3,615.8 1077.5,644.2 1040,650 C1002.5,655.8 1006.7,641.7 1000,640"/>
<path d="M1280,800 L1395,775 L1400,900 L1290,940 L1290,1000 L1185,1020 L1185,910 L1280,890 L1280,800"/>
<path d="M1190,1310 L1180,1075 L1360,1055 L1365,1250"/>
<path d="M1265,1080 L1290,1280"/>
<path d="M1370,1200 L1450,1170"/>
<path d="M600,490 L930,580 M580,540 L620,490 M650,590 L900,680 M700,520 L690,580 M780,545 L770,615 M840,565 L830,650 M900,590 L890,680 M945,580 L950,690"/>
<path d="M0,390 L95,240 L100,30"/>
<path d="M40,140 h50 v60 h-50Z"/>
<path d="M2100,1310 L2296,1295 M2100,1420 L2150,1410 M1990,1475 L2296,1430"/>
<path d="M1951,99 L2060,284 M2184,134 L2100,300 L2060,285 M2070,285 L2170,490 M2040,510 L2040,490"/>
<path d="M1957.5,115.0 L2170.6,153.1 M1970.5,137.0 L2159.9,171.4 M1983.5,159.0 L2149.1,189.6 M1996.5,181.0 L2138.4,207.9 M2009.5,203.0 L2127.6,226.1 M2022.5,225.0 L2116.9,244.4 M2035.5,247.0 L2106.1,262.6 M2048.5,269.0 L2095.4,280.9" style="stroke-width:3"/>
</g>
<g transform="translate(2587,1858) scale(0.5)">
<path d="M160,134 L135,700 L285,695 L285,490 L500,480 L512,505 L490,670 L650,680 L665,475 L800,470 L780,300 L785,134"/>
<path d="M785,300 L1195,300 L1200,134"/>
<path d="M340,134 L335,110 L300,115 L290,220"/>
<path d="M290,220 C291.7,225.8 281.7,248.0 300,255 C318.3,262.0 350.0,264.5 400,262 C450.0,259.5 566.7,243.7 600,240"/>
<path d="M600,240 L615,200 L625,134"/>
<path d="M300,185 L600,195 M495,134 L490,160 M300,170 L520,165"/>
<path d="M185,285 h55 v115 h-55Z"/>
<path d="M560,310 h75 v100 h-75Z"/>
<path d="M710,125 h65 v90 h-65Z"/>
<path d="M875,65 h70 v90 h-70Z"/>
<path d="M830,185 h105 v65 h-105Z"/>
<path d="M1048,300 L1048,160 L1130,160 L1135,300"/>
<path d="M1095,165 L1095,300"/>
<path d="M375,400 h65 v78 h-65Z"/>
<path d="M335,510 L335,600 M375,510 L375,600 M420,510 L420,600 M462,490 L466,600 M295,600 L470,600 M290,685 L490,680"/>
<path d="M295.0,617.7 L480.4,617.2 M295.0,629.0 L481.2,627.8 M295.0,640.3 L482.1,638.2 M295.0,651.7 L482.9,648.8 M295.0,663.0 L483.8,659.2 M295.0,674.3 L484.6,669.8" style="stroke-width:4;stroke:#555"/>
<path d="M-15,88 L38,106 L31,211 L-18,199Z"/>
<path d="M31,211 L56,249 L44,521 M-12,-36 L-6,88 M87,558 L87,459 L130,465 L130,583 M230,625 L285,625"/>
<path d="M-142,335 C-125.5,337.0 -69.8,334.7 -43,347 C-16.2,359.3 4.5,380.0 19,409 C33.5,438.0 35.8,487.0 44,521 C52.2,555.0 53.7,583.2 68,613 C82.3,642.8 99.0,673.2 130,700 C161.0,726.8 233.3,761.7 254,774"/>
<path d="M-142,391 C-127.5,392.0 -75.7,385.7 -55,397 C-34.3,408.3 -26.2,428.0 -18,459 C-9.8,490.0 -12.2,547.0 -6,583 C0.2,619.0 4.5,644.2 19,675 C33.5,705.8 52.2,739.0 81,768 C109.8,797.0 173.5,835.5 192,849"/>
<path d="M0,1300 C50.0,1289.2 200.0,1256.7 300,1235 C400.0,1213.3 500.0,1190.8 600,1170 C700.0,1149.2 816.7,1130.0 900,1110 C983.3,1090.0 1033.3,1075.0 1100,1050 C1166.7,1025.0 1250.0,988.3 1300,960 C1350.0,931.7 1373.3,906.7 1400,880 C1426.7,853.3 1446.7,830.0 1460,800 C1473.3,770.0 1475.0,741.7 1480,700 C1485.0,658.3 1483.3,600.0 1490,550 C1496.7,500.0 1505.0,443.3 1520,400 C1535.0,356.7 1553.3,323.3 1580,290 C1606.7,256.7 1643.3,231.7 1680,200 C1716.7,168.3 1765.8,133.3 1800,100 C1834.2,66.7 1870.8,16.7 1885,0"/>
<path d="M0,1440 C50.0,1431.7 200.0,1408.3 300,1390 C400.0,1371.7 500.0,1350.8 600,1330 C700.0,1309.2 816.7,1284.2 900,1265 C983.3,1245.8 1033.3,1237.5 1100,1215 C1166.7,1192.5 1241.7,1160.8 1300,1130 C1358.3,1099.2 1406.7,1063.3 1450,1030 C1493.3,996.7 1525.0,960.0 1560,930 C1595.0,900.0 1638.3,888.3 1660,850 C1681.7,811.7 1685.0,758.3 1690,700 C1695.0,641.7 1685.0,558.3 1690,500 C1695.0,441.7 1703.3,391.7 1720,350 C1736.7,308.3 1763.3,283.3 1790,250 C1816.7,216.7 1845.0,191.7 1880,150 C1915.0,108.3 1980.0,25.0 2000,0"/>
<path d="M100,1360 C158.3,1350.0 356.7,1319.2 450,1300 C543.3,1280.8 598.3,1260.0 660,1245 C721.7,1230.0 770.0,1220.8 820,1210 C870.0,1199.2 905.0,1195.0 960,1180 C1015.0,1165.0 1096.7,1143.3 1150,1120 C1203.3,1096.7 1236.7,1070.0 1280,1040 C1323.3,1010.0 1376.7,970.0 1410,940 C1443.3,910.0 1458.3,886.7 1480,860 C1501.7,833.3 1524.2,810.0 1540,780 C1555.8,750.0 1567.5,720.0 1575,680 C1582.5,640.0 1580.8,581.7 1585,540 C1589.2,498.3 1590.8,461.7 1600,430 C1609.2,398.3 1623.3,375.0 1640,350 C1656.7,325.0 1673.3,310.0 1700,280 C1726.7,250.0 1766.7,205.0 1800,170 C1833.3,135.0 1883.3,86.7 1900,70" style="stroke-dasharray:30 70;stroke-width:3;stroke:#808080"/>
<path d="M1685,0 L1675,215 M1835,0 L1835,70"/>
<path d="M1830,220 C1826.7,283.3 1820.0,478.3 1810,600 C1800.0,721.7 1780.8,873.3 1770,950 C1759.2,1026.7 1749.2,1041.7 1745,1060"/>
<path d="M1555,1060 C1562.5,1063.3 1575.8,1075.8 1600,1080 C1624.2,1084.2 1675.8,1088.3 1700,1085 C1724.2,1081.7 1737.5,1064.2 1745,1060"/>
<path d="M1560,930 L1555,1060"/>
</g>
<g transform="translate(3000,1300) scale(0.37596)">
<path d="M1605,1000 C1605.8,1008.3 1612.5,1028.3 1610,1050 C1607.5,1071.7 1605.0,1106.7 1590,1130 C1575.0,1153.3 1551.7,1170.0 1520,1190 C1488.3,1210.0 1445.0,1234.2 1400,1250 C1355.0,1265.8 1308.3,1279.2 1250,1285 C1191.7,1290.8 1090.0,1290.8 1050,1285 C1010.0,1279.2 1013.3,1262.5 1010,1250 C1006.7,1237.5 1015.0,1222.5 1030,1210 C1045.0,1197.5 1076.7,1183.3 1100,1175 C1123.3,1166.7 1158.3,1162.5 1170,1160"/>
<path d="M1440,1000 C1443.3,1008.3 1460.0,1031.7 1460,1050 C1460.0,1068.3 1451.7,1093.3 1440,1110 C1428.3,1126.7 1405.0,1140.0 1390,1150 C1375.0,1160.0 1356.7,1166.7 1350,1170"/>
<path d="M1500,960 C1506.7,975.0 1536.7,1023.3 1540,1050 C1543.3,1076.7 1530.0,1100.8 1520,1120 C1510.0,1139.2 1486.7,1157.5 1480,1165" style="stroke-dasharray:12 30;stroke-width:3;stroke:#8c8c8c"/>
<path d="M1190,880 L1185,1060 L1170,1170 M1355,940 L1355,1170"/>
<path d="M1170,1170 C1173.3,1174.2 1160.0,1192.5 1190,1195 C1220.0,1197.5 1323.3,1186.7 1350,1185"/>
<path d="M1100,1235 L1115,1237 M1180,1240 L1195,1240 M1250,1230 L1262,1228 M1310,1215 L1320,1212" style="stroke-width:3.5"/>
</g>
<g transform="translate(3300,1700) scale(0.4329)">
<path d="M570,150 C575.0,158.3 596.7,178.3 600,200 C603.3,221.7 600.0,255.0 590,280 C580.0,305.0 550.8,335.0 540,350 C529.2,365.0 527.5,366.7 525,370"/>
<path d="M600,130 C602.5,141.7 615.0,173.3 615,200 C615.0,226.7 610.8,261.7 600,290 C589.2,318.3 558.3,356.7 550,370"/>
<path d="M640,120 C648.3,126.7 678.3,143.3 690,160 C701.7,176.7 710.0,196.7 710,220 C710.0,243.3 701.7,270.0 690,300 C678.3,330.0 648.3,383.3 640,400"/>
<path d="M640,150 C641.7,163.3 653.3,203.3 650,230 C646.7,256.7 632.5,285.0 620,310 C607.5,335.0 582.5,368.3 575,380" style="stroke-dasharray:12 30;stroke-width:3;stroke:#8c8c8c"/>
<path d="M300,190 L290,400 M470,180 L466,400"/>
</g>
<g transform="translate(900,1450) scale(0.27836)">
<path d="M230,290 L900,445 M240,680 L650,790"/>
<path d="M255,465 L655,568 L640,700 L250,600Z"/>
<path d="M292.5,596.2 L321.9,486.2 M337.5,608.8 L365.6,498.8 M382.5,621.2 L409.4,511.2 M427.5,633.8 L453.1,523.8 M472.5,646.2 L496.9,536.2 M517.5,658.8 L540.6,548.8 M562.5,671.2 L584.4,561.2 M607.5,683.8 L628.1,573.8" style="stroke-width:2.5"/>
<path d="M905,448 L905,500 L830,520 L820,600 L750,620 L740,700 L660,720 L650,800 L550,830 L545,880 L500,890 L495,950"/>
<path d="M870,540 L1310,545 M830,600 L1240,610 M760,645 L1235,650 M740,700 L1150,705 M680,750 L1090,755 M660,800 L1000,800 M580,850 L990,830 M545,880 L910,880 M520,920 L800,910 M500,950 L795,975"/>
<path d="M1310,545 L1300,600 L1240,610 L1235,650 L1160,660 L1150,705 L1090,710 L1085,760 L1000,770 L990,830 L910,840 L905,890 L800,900 L795,975 L730,990"/>
<path d="M500,960 L600,1150 L640,1260"/>
<path d="M730,1000 L770,1150"/>
<path d="M540,990 L730,1010"/>
<path d="M630,1260 L610,1640 M630,1260 L700,1265 M620,1565 L720,1567 M640,1170 L720,1260 M600,1150 L770,1150"/>
</g>
<g transform="translate(1020,1420) scale(0.31358)">
<path d="M20,340 L90,230 L150,300 L120,350Z"/>
<path d="M150,310 L230,240 L320,290 L250,390Z"/>
<path d="M210,150 L370,80 L330,130 L240,190Z"/>
</g>
</g>
</svg>
</body></html>
